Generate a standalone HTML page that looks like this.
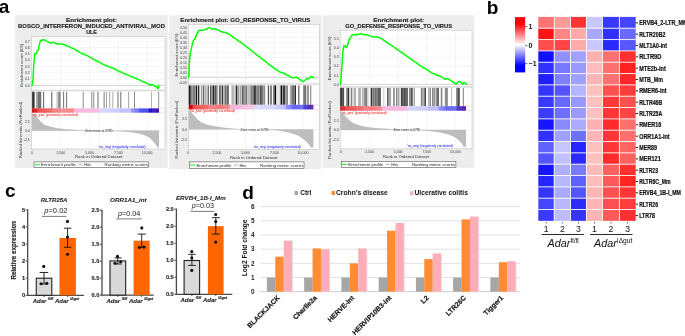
<!DOCTYPE html><html><head><meta charset="utf-8"><style>html,body{margin:0;padding:0;background:#fff;}svg{display:block;will-change:transform;}</style></head><body><svg width="685" height="336" viewBox="0 0 685 336" font-family='"Liberation Sans", sans-serif'>
<rect x="0.00" y="0.00" width="685.00" height="336.00" fill="#ffffff"/>
<rect x="15.30" y="15.30" width="152.50" height="152.60" fill="#ededed"/>
<text x="91.55" y="21.50" font-size="6.0" text-anchor="middle" fill="#222" font-weight="bold" textLength="51" lengthAdjust="spacingAndGlyphs" stroke="#222" stroke-width="0.15">Enrichment plot:</text>
<text x="91.55" y="27.90" font-size="6.0" text-anchor="middle" fill="#222" font-weight="bold" textLength="147" lengthAdjust="spacingAndGlyphs" stroke="#222" stroke-width="0.15">BOSCO_INTERFERON_INDUCED_ANTIVIRAL_MOD</text>
<text x="91.55" y="34.30" font-size="6.0" text-anchor="middle" fill="#222" font-weight="bold" textLength="10.6" lengthAdjust="spacingAndGlyphs" stroke="#222" stroke-width="0.15">ULE</text>
<rect x="31.40" y="36.70" width="133.60" height="53.50" fill="#fff" stroke="#c4c4c4" stroke-width="0.6"/>
<rect x="31.40" y="90.20" width="133.60" height="58.80" fill="#fff" stroke="#c4c4c4" stroke-width="0.6"/>
<line x1="60.80" y1="36.70" x2="60.80" y2="90.20" stroke="#e6e6e6" stroke-width="0.5"/>
<line x1="60.80" y1="112.70" x2="60.80" y2="149.00" stroke="#efefef" stroke-width="0.5"/>
<line x1="89.60" y1="36.70" x2="89.60" y2="90.20" stroke="#e6e6e6" stroke-width="0.5"/>
<line x1="89.60" y1="112.70" x2="89.60" y2="149.00" stroke="#efefef" stroke-width="0.5"/>
<line x1="118.40" y1="36.70" x2="118.40" y2="90.20" stroke="#e6e6e6" stroke-width="0.5"/>
<line x1="118.40" y1="112.70" x2="118.40" y2="149.00" stroke="#efefef" stroke-width="0.5"/>
<line x1="147.20" y1="36.70" x2="147.20" y2="90.20" stroke="#e6e6e6" stroke-width="0.5"/>
<line x1="147.20" y1="112.70" x2="147.20" y2="149.00" stroke="#efefef" stroke-width="0.5"/>
<line x1="31.40" y1="85.50" x2="165.00" y2="85.50" stroke="#ebebeb" stroke-width="0.5"/>
<text x="29.80" y="86.75" font-size="3.5" text-anchor="end" fill="#3a3a3a">0.0</text>
<line x1="31.40" y1="79.18" x2="165.00" y2="79.18" stroke="#ebebeb" stroke-width="0.5"/>
<text x="29.80" y="80.43" font-size="3.5" text-anchor="end" fill="#3a3a3a">0.1</text>
<line x1="31.40" y1="72.86" x2="165.00" y2="72.86" stroke="#ebebeb" stroke-width="0.5"/>
<text x="29.80" y="74.11" font-size="3.5" text-anchor="end" fill="#3a3a3a">0.2</text>
<line x1="31.40" y1="66.54" x2="165.00" y2="66.54" stroke="#ebebeb" stroke-width="0.5"/>
<text x="29.80" y="67.79" font-size="3.5" text-anchor="end" fill="#3a3a3a">0.3</text>
<line x1="31.40" y1="60.22" x2="165.00" y2="60.22" stroke="#ebebeb" stroke-width="0.5"/>
<text x="29.80" y="61.47" font-size="3.5" text-anchor="end" fill="#3a3a3a">0.4</text>
<line x1="31.40" y1="53.90" x2="165.00" y2="53.90" stroke="#ebebeb" stroke-width="0.5"/>
<text x="29.80" y="55.15" font-size="3.5" text-anchor="end" fill="#3a3a3a">0.5</text>
<line x1="31.40" y1="47.58" x2="165.00" y2="47.58" stroke="#ebebeb" stroke-width="0.5"/>
<text x="29.80" y="48.83" font-size="3.5" text-anchor="end" fill="#3a3a3a">0.6</text>
<line x1="31.40" y1="41.26" x2="165.00" y2="41.26" stroke="#ebebeb" stroke-width="0.5"/>
<text x="29.80" y="42.51" font-size="3.5" text-anchor="end" fill="#3a3a3a">0.7</text>
<line x1="31.40" y1="85.50" x2="165.00" y2="85.50" stroke="#d2d2d2" stroke-width="0.9"/>
<rect x="32.10" y="91.60" width="2.50" height="16.80" fill="#333333"/>
<rect x="36.20" y="91.60" width="1.50" height="16.80" fill="#999999"/>
<rect x="37.70" y="91.60" width="3.60" height="16.80" fill="#737373"/>
<rect x="43.30" y="91.60" width="0.80" height="16.80" fill="#333333"/>
<rect x="51.30" y="91.60" width="1.00" height="16.80" fill="#595959"/>
<rect x="56.60" y="91.60" width="1.00" height="16.80" fill="#b2b2b2"/>
<rect x="58.10" y="91.60" width="2.60" height="16.80" fill="#8c8c8c"/>
<rect x="63.30" y="91.60" width="0.80" height="16.80" fill="#4c4c4c"/>
<rect x="66.30" y="91.60" width="0.80" height="16.80" fill="#4c4c4c"/>
<rect x="82.70" y="91.60" width="1.00" height="16.80" fill="#8c8c8c"/>
<rect x="91.40" y="91.60" width="0.80" height="16.80" fill="#737373"/>
<rect x="93.40" y="91.60" width="0.80" height="16.80" fill="#737373"/>
<rect x="97.60" y="91.60" width="0.80" height="16.80" fill="#4c4c4c"/>
<rect x="103.70" y="91.60" width="0.80" height="16.80" fill="#595959"/>
<rect x="106.40" y="91.60" width="0.60" height="16.80" fill="#666666"/>
<rect x="109.50" y="91.60" width="0.60" height="16.80" fill="#737373"/>
<rect x="112.60" y="91.60" width="0.60" height="16.80" fill="#737373"/>
<rect x="117.50" y="91.60" width="1.00" height="16.80" fill="#737373"/>
<rect x="120.50" y="91.60" width="0.70" height="16.80" fill="#333333"/>
<rect x="128.50" y="91.60" width="0.60" height="16.80" fill="#666666"/>
<rect x="134.30" y="91.60" width="0.70" height="16.80" fill="#595959"/>
<rect x="151.40" y="91.60" width="0.60" height="16.80" fill="#808080"/>
<rect x="158.40" y="91.60" width="0.70" height="16.80" fill="#666666"/>
<rect x="32.10" y="108.40" width="1.07" height="4.30" fill="#c80000"/>
<rect x="33.12" y="108.40" width="1.07" height="4.30" fill="#cc0202"/>
<rect x="34.14" y="108.40" width="1.07" height="4.30" fill="#d00404"/>
<rect x="35.16" y="108.40" width="1.07" height="4.30" fill="#d40606"/>
<rect x="36.18" y="108.40" width="1.07" height="4.30" fill="#d80808"/>
<rect x="37.20" y="108.40" width="1.07" height="4.30" fill="#e42a2a"/>
<rect x="38.22" y="108.40" width="1.07" height="4.30" fill="#e52c2c"/>
<rect x="39.24" y="108.40" width="1.07" height="4.30" fill="#e52e2e"/>
<rect x="40.26" y="108.40" width="1.07" height="4.30" fill="#e63030"/>
<rect x="41.28" y="108.40" width="1.07" height="4.30" fill="#e73131"/>
<rect x="42.30" y="108.40" width="1.07" height="4.30" fill="#e83333"/>
<rect x="43.32" y="108.40" width="1.07" height="4.30" fill="#e83535"/>
<rect x="44.34" y="108.40" width="1.07" height="4.30" fill="#e93737"/>
<rect x="45.36" y="108.40" width="1.07" height="4.30" fill="#ea3939"/>
<rect x="46.38" y="108.40" width="1.07" height="4.30" fill="#ea3b3b"/>
<rect x="47.40" y="108.40" width="1.07" height="4.30" fill="#eb3d3d"/>
<rect x="48.42" y="108.40" width="1.07" height="4.30" fill="#ec3e3e"/>
<rect x="49.44" y="108.40" width="1.07" height="4.30" fill="#ed4040"/>
<rect x="50.46" y="108.40" width="1.07" height="4.30" fill="#ed4242"/>
<rect x="51.48" y="108.40" width="1.07" height="4.30" fill="#ee4444"/>
<rect x="52.50" y="108.40" width="1.07" height="4.30" fill="#f05a66"/>
<rect x="53.52" y="108.40" width="1.07" height="4.30" fill="#f15d68"/>
<rect x="54.55" y="108.40" width="1.08" height="4.30" fill="#f15f6a"/>
<rect x="55.58" y="108.40" width="1.07" height="4.30" fill="#f2626c"/>
<rect x="56.60" y="108.40" width="1.07" height="4.30" fill="#f2646e"/>
<rect x="57.62" y="108.40" width="1.08" height="4.30" fill="#f36770"/>
<rect x="58.65" y="108.40" width="1.07" height="4.30" fill="#f36972"/>
<rect x="59.68" y="108.40" width="1.07" height="4.30" fill="#f46c74"/>
<rect x="60.70" y="108.40" width="1.07" height="4.30" fill="#f77a80"/>
<rect x="61.72" y="108.40" width="1.07" height="4.30" fill="#f77b81"/>
<rect x="62.75" y="108.40" width="1.07" height="4.30" fill="#f87d82"/>
<rect x="63.77" y="108.40" width="1.07" height="4.30" fill="#f87e82"/>
<rect x="64.79" y="108.40" width="1.07" height="4.30" fill="#f87f83"/>
<rect x="65.82" y="108.40" width="1.07" height="4.30" fill="#f88184"/>
<rect x="66.84" y="108.40" width="1.07" height="4.30" fill="#f88285"/>
<rect x="67.86" y="108.40" width="1.07" height="4.30" fill="#f98386"/>
<rect x="68.88" y="108.40" width="1.07" height="4.30" fill="#f98587"/>
<rect x="69.91" y="108.40" width="1.07" height="4.30" fill="#f98688"/>
<rect x="70.93" y="108.40" width="1.07" height="4.30" fill="#fa8788"/>
<rect x="71.95" y="108.40" width="1.07" height="4.30" fill="#fa8989"/>
<rect x="72.98" y="108.40" width="1.07" height="4.30" fill="#fa8a8a"/>
<rect x="74.00" y="108.40" width="1.05" height="4.30" fill="#f7b5dc"/>
<rect x="75.00" y="108.40" width="1.05" height="4.30" fill="#f7b5dc"/>
<rect x="76.01" y="108.40" width="1.05" height="4.30" fill="#f7b5dc"/>
<rect x="77.01" y="108.40" width="1.05" height="4.30" fill="#f7b5dc"/>
<rect x="78.02" y="108.40" width="1.05" height="4.30" fill="#f7b6dc"/>
<rect x="79.02" y="108.40" width="1.05" height="4.30" fill="#f7b6dc"/>
<rect x="80.02" y="108.40" width="1.05" height="4.30" fill="#f7b6dc"/>
<rect x="81.03" y="108.40" width="1.05" height="4.30" fill="#f7b6dd"/>
<rect x="82.03" y="108.40" width="1.05" height="4.30" fill="#f7b6dd"/>
<rect x="83.04" y="108.40" width="1.05" height="4.30" fill="#f7b6dd"/>
<rect x="84.04" y="108.40" width="1.05" height="4.30" fill="#f7b6dd"/>
<rect x="85.04" y="108.40" width="1.05" height="4.30" fill="#f7b6dd"/>
<rect x="86.05" y="108.40" width="1.05" height="4.30" fill="#f7b6dd"/>
<rect x="87.05" y="108.40" width="1.05" height="4.30" fill="#f7b7dd"/>
<rect x="88.06" y="108.40" width="1.05" height="4.30" fill="#f7b7dd"/>
<rect x="89.06" y="108.40" width="1.05" height="4.30" fill="#f7b7dd"/>
<rect x="90.06" y="108.40" width="1.05" height="4.30" fill="#f7b7dd"/>
<rect x="91.07" y="108.40" width="1.05" height="4.30" fill="#f7b7dd"/>
<rect x="92.07" y="108.40" width="1.05" height="4.30" fill="#f7b7de"/>
<rect x="93.08" y="108.40" width="1.05" height="4.30" fill="#f7b7de"/>
<rect x="94.08" y="108.40" width="1.05" height="4.30" fill="#f7b8de"/>
<rect x="95.08" y="108.40" width="1.05" height="4.30" fill="#f7b8de"/>
<rect x="96.09" y="108.40" width="1.05" height="4.30" fill="#f7b8de"/>
<rect x="97.09" y="108.40" width="1.05" height="4.30" fill="#f7b8de"/>
<rect x="98.10" y="108.40" width="1.05" height="4.30" fill="#f7b8de"/>
<rect x="99.10" y="108.40" width="1.05" height="4.30" fill="#d4d4ff"/>
<rect x="100.10" y="108.40" width="1.05" height="4.30" fill="#d4d4ff"/>
<rect x="101.09" y="108.40" width="1.05" height="4.30" fill="#d3d3ff"/>
<rect x="102.09" y="108.40" width="1.05" height="4.30" fill="#d3d3ff"/>
<rect x="103.08" y="108.40" width="1.05" height="4.30" fill="#d2d2ff"/>
<rect x="104.08" y="108.40" width="1.05" height="4.30" fill="#d2d2ff"/>
<rect x="105.07" y="108.40" width="1.05" height="4.30" fill="#d2d2ff"/>
<rect x="106.07" y="108.40" width="1.05" height="4.30" fill="#d1d1ff"/>
<rect x="107.06" y="108.40" width="1.05" height="4.30" fill="#d1d1ff"/>
<rect x="108.06" y="108.40" width="1.05" height="4.30" fill="#d0d0ff"/>
<rect x="109.05" y="108.40" width="1.05" height="4.30" fill="#d0d0ff"/>
<rect x="110.05" y="108.40" width="1.05" height="4.30" fill="#d0d0ff"/>
<rect x="111.04" y="108.40" width="1.05" height="4.30" fill="#cfcfff"/>
<rect x="112.04" y="108.40" width="1.05" height="4.30" fill="#cfcfff"/>
<rect x="113.03" y="108.40" width="1.05" height="4.30" fill="#ceceff"/>
<rect x="114.03" y="108.40" width="1.05" height="4.30" fill="#ceceff"/>
<rect x="115.02" y="108.40" width="1.05" height="4.30" fill="#ceceff"/>
<rect x="116.02" y="108.40" width="1.05" height="4.30" fill="#cdcdff"/>
<rect x="117.01" y="108.40" width="1.05" height="4.30" fill="#cdcdff"/>
<rect x="118.01" y="108.40" width="1.05" height="4.30" fill="#ccccff"/>
<rect x="119.00" y="108.40" width="1.05" height="4.30" fill="#ccccff"/>
<rect x="120.00" y="108.40" width="1.08" height="4.30" fill="#c0c0ff"/>
<rect x="121.03" y="108.40" width="1.08" height="4.30" fill="#bfbfff"/>
<rect x="122.05" y="108.40" width="1.08" height="4.30" fill="#bebeff"/>
<rect x="123.08" y="108.40" width="1.08" height="4.30" fill="#bcbcff"/>
<rect x="124.11" y="108.40" width="1.08" height="4.30" fill="#bbbbff"/>
<rect x="125.14" y="108.40" width="1.08" height="4.30" fill="#babaff"/>
<rect x="126.16" y="108.40" width="1.08" height="4.30" fill="#b9b9ff"/>
<rect x="127.19" y="108.40" width="1.08" height="4.30" fill="#b8b8ff"/>
<rect x="128.22" y="108.40" width="1.08" height="4.30" fill="#b6b6ff"/>
<rect x="129.25" y="108.40" width="1.08" height="4.30" fill="#b5b5ff"/>
<rect x="130.27" y="108.40" width="1.08" height="4.30" fill="#b4b4ff"/>
<rect x="131.30" y="108.40" width="1.01" height="4.30" fill="#7e7eff"/>
<rect x="132.26" y="108.40" width="1.01" height="4.30" fill="#7c7cff"/>
<rect x="133.23" y="108.40" width="1.01" height="4.30" fill="#7a7aff"/>
<rect x="134.19" y="108.40" width="1.01" height="4.30" fill="#7878ff"/>
<rect x="135.15" y="108.40" width="1.01" height="4.30" fill="#7676ff"/>
<rect x="136.11" y="108.40" width="1.01" height="4.30" fill="#7474ff"/>
<rect x="137.07" y="108.40" width="1.01" height="4.30" fill="#7272ff"/>
<rect x="138.04" y="108.40" width="1.01" height="4.30" fill="#7070ff"/>
<rect x="139.00" y="108.40" width="1.05" height="4.30" fill="#5a5af0"/>
<rect x="140.00" y="108.40" width="1.05" height="4.30" fill="#5858ef"/>
<rect x="141.00" y="108.40" width="1.05" height="4.30" fill="#5656ee"/>
<rect x="142.00" y="108.40" width="1.05" height="4.30" fill="#5555ed"/>
<rect x="143.00" y="108.40" width="1.05" height="4.30" fill="#5353ec"/>
<rect x="144.00" y="108.40" width="1.05" height="4.30" fill="#5151ec"/>
<rect x="145.00" y="108.40" width="1.05" height="4.30" fill="#4f4feb"/>
<rect x="146.00" y="108.40" width="1.05" height="4.30" fill="#4e4eea"/>
<rect x="147.00" y="108.40" width="1.05" height="4.30" fill="#4c4ce9"/>
<rect x="148.00" y="108.40" width="1.05" height="4.30" fill="#4a4ae8"/>
<rect x="149.00" y="108.40" width="1.01" height="4.30" fill="#1a10cc"/>
<rect x="149.96" y="108.40" width="1.01" height="4.30" fill="#1a10cc"/>
<rect x="150.92" y="108.40" width="1.01" height="4.30" fill="#1a10cc"/>
<rect x="151.88" y="108.40" width="1.01" height="4.30" fill="#1a10cc"/>
<rect x="152.84" y="108.40" width="1.01" height="4.30" fill="#1a10cc"/>
<rect x="153.80" y="108.40" width="1.07" height="4.30" fill="#4000a8"/>
<rect x="154.82" y="108.40" width="1.07" height="4.30" fill="#4000a8"/>
<rect x="155.84" y="108.40" width="1.07" height="4.30" fill="#4000a8"/>
<rect x="156.86" y="108.40" width="1.07" height="4.30" fill="#4000a8"/>
<rect x="157.88" y="108.40" width="1.07" height="4.30" fill="#4000a8"/>
<line x1="158.90" y1="108.40" x2="165.00" y2="108.40" stroke="#d4d4d4" stroke-width="0.5"/>
<line x1="158.90" y1="112.70" x2="165.00" y2="112.70" stroke="#d4d4d4" stroke-width="0.5"/>
<line x1="31.40" y1="91.30" x2="165.00" y2="91.30" stroke="#d8d8d8" stroke-width="0.4"/>
<text x="29.80" y="122.65" font-size="3.5" text-anchor="end" fill="#3a3a3a">2.5</text>
<line x1="31.40" y1="130.80" x2="165.00" y2="130.80" stroke="#e4e4e4" stroke-width="0.5"/>
<text x="29.80" y="132.05" font-size="3.5" text-anchor="end" fill="#3a3a3a">0.0</text>
<text x="29.80" y="141.45" font-size="3.5" text-anchor="end" fill="#3a3a3a">-2.5</text>
<line x1="99.10" y1="112.70" x2="99.10" y2="149.00" stroke="#d0d0d0" stroke-width="0.5" stroke-dasharray="1,1"/>
<polygon points="32.00,113.70 33.50,114.20 35.60,115.60 37.50,117.50 40.40,121.30 44.20,124.70 49.90,126.60 56.60,128.00 66.10,129.20 75.70,129.70 85.20,130.20 100.00,130.60 112.80,130.80 112.80,130.80 32.00,130.80" fill="#bdbdbd" stroke="none" stroke-width="1"/>
<polygon points="112.80,130.80 122.00,131.50 133.50,132.40 142.90,134.40 149.60,137.80 153.60,141.80 157.00,146.50 157.80,147.80 159.00,147.80 159.00,130.80" fill="#bdbdbd" stroke="none" stroke-width="1"/>
<line x1="112.80" y1="130.80" x2="159.00" y2="130.80" stroke="#bdbdbd" stroke-width="0.5"/>
<text x="98.95" y="132.20" font-size="3.5" text-anchor="middle" fill="#1a1a1a" textLength="27.700000000000003" lengthAdjust="spacingAndGlyphs">Zero cross at 6785</text>
<text x="32.60" y="115.60" font-size="3.5" text-anchor="start" fill="#ff0000" textLength="45.3" lengthAdjust="spacingAndGlyphs">'na_pos' (positively correlated)</text>
<text x="122.15" y="148.20" font-size="3.5" text-anchor="middle" fill="#0000ff" textLength="46.89999999999999" lengthAdjust="spacingAndGlyphs">'na_neg' (negatively correlated)</text>
<polyline points="32.10,85.40 33.00,79.00 33.40,72.00 33.70,65.50 34.30,58.30 34.60,53.40 36.25,53.40 37.60,50.70 38.50,49.40 39.40,44.00 40.50,40.50 42.10,40.00 43.80,39.75 44.95,40.15 46.10,40.90 47.42,41.55 48.75,42.25 49.88,42.81 51.00,43.10 52.10,42.78 53.20,42.25 54.55,43.04 55.90,43.60 56.80,43.70 57.70,44.02 58.60,44.00 59.92,44.02 61.25,44.00 62.36,44.14 63.48,44.68 64.59,44.82 65.70,45.40 66.60,45.98 67.50,46.34 68.40,46.40 69.30,46.74 70.20,47.20 71.30,47.88 72.40,48.15 73.50,48.69 74.60,49.40 75.50,49.76 76.40,50.36 77.30,51.01 78.20,51.70 79.10,51.84 80.00,52.50 80.99,53.17 81.97,53.41 82.96,54.03 83.94,54.43 84.93,54.54 85.91,55.23 86.90,55.60 87.80,55.90 88.70,56.33 89.60,57.02 90.50,57.70 91.40,58.08 92.30,58.39 93.20,59.20 94.10,59.73 95.00,59.88 95.90,60.50 96.89,60.97 97.88,61.57 98.87,62.20 99.86,62.31 100.84,63.03 101.83,63.73 102.82,64.05 103.81,64.61 104.80,65.00 105.79,65.53 106.78,65.78 107.77,66.06 108.76,66.60 109.74,66.96 110.73,67.25 111.72,67.90 112.71,68.04 113.70,68.50 114.78,69.03 115.86,69.71 116.94,70.28 118.02,70.86 119.10,71.20 120.08,71.71 121.06,71.94 122.04,72.66 123.02,73.12 124.00,73.46 124.98,73.91 125.96,74.22 126.94,74.64 127.92,75.11 128.90,75.50 129.80,75.70 130.70,76.35 131.60,76.82 132.50,76.85 133.40,77.53 134.30,77.88 135.20,77.97 136.10,78.32 137.00,78.97 137.90,79.30 138.89,79.60 139.88,80.09 140.87,80.69 141.86,81.15 142.84,81.65 143.83,82.00 144.82,82.33 145.81,82.61 146.80,83.30 148.00,83.81 149.20,84.55 150.40,85.40 151.70,84.20 152.80,84.81 153.90,85.40 154.80,86.11 155.70,86.45 156.60,87.14 157.50,88.02 158.40,88.40 158.60,85.40" fill="none" stroke="#00ff00" stroke-width="1.5" stroke-linejoin="round" stroke-linecap="round"/>
<text x="32.00" y="153.50" font-size="3.5" text-anchor="middle" fill="#3a3a3a">0</text>
<text x="60.80" y="153.50" font-size="3.5" text-anchor="middle" fill="#3a3a3a">2,500</text>
<text x="89.60" y="153.50" font-size="3.5" text-anchor="middle" fill="#3a3a3a">5,000</text>
<text x="118.40" y="153.50" font-size="3.5" text-anchor="middle" fill="#3a3a3a">7,500</text>
<text x="147.20" y="153.50" font-size="3.5" text-anchor="middle" fill="#3a3a3a">10,000</text>
<text x="98.70" y="158.25" font-size="4.3" text-anchor="middle" fill="#2a2a2a" textLength="47.400000000000006" lengthAdjust="spacingAndGlyphs">Rank in Ordered Dataset</text>
<text x="0.00" y="0.00" font-size="3.9" text-anchor="middle" fill="#3a3a3a" textLength="43" lengthAdjust="spacingAndGlyphs" transform="translate(22.60,65.20) rotate(-90)">Enrichment score (ES)</text>
<text x="0.00" y="0.00" font-size="3.9" text-anchor="middle" fill="#3a3a3a" textLength="56" lengthAdjust="spacingAndGlyphs" transform="translate(22.20,130.00) rotate(-90)">Ranked list metric (PreRanked)</text>
<rect x="34.00" y="161.90" width="114.60" height="5.60" fill="#fff" stroke="#555" stroke-width="0.6"/>
<line x1="34.60" y1="164.70" x2="40.00" y2="164.70" stroke="#00ee00" stroke-width="0.9"/>
<text x="41.00" y="166.20" font-size="4.3" text-anchor="start" fill="#222" textLength="35" lengthAdjust="spacingAndGlyphs">Enrichment profile</text>
<line x1="78.50" y1="164.70" x2="82.50" y2="164.70" stroke="#555" stroke-width="0.5"/>
<text x="84.00" y="166.20" font-size="4.3" text-anchor="start" fill="#222" textLength="7" lengthAdjust="spacingAndGlyphs">Hits</text>
<line x1="99.00" y1="164.70" x2="103.00" y2="164.70" stroke="#ddd" stroke-width="0.5"/>
<text x="104.60" y="166.20" font-size="4.3" text-anchor="start" fill="#222" textLength="43.4" lengthAdjust="spacingAndGlyphs">Ranking metric scores</text>
<rect x="169.20" y="15.30" width="152.30" height="153.70" fill="#ededed"/>
<text x="245.35" y="22.10" font-size="6.0" text-anchor="middle" fill="#222" font-weight="bold" textLength="130" lengthAdjust="spacingAndGlyphs" stroke="#222" stroke-width="0.15">Enrichment plot: GO_RESPONSE_TO_VIRUS</text>
<rect x="188.60" y="24.50" width="130.70" height="59.60" fill="#fff" stroke="#c4c4c4" stroke-width="0.6"/>
<rect x="188.60" y="84.10" width="130.70" height="65.20" fill="#fff" stroke="#c4c4c4" stroke-width="0.6"/>
<line x1="216.90" y1="24.50" x2="216.90" y2="84.10" stroke="#e6e6e6" stroke-width="0.5"/>
<line x1="216.90" y1="109.40" x2="216.90" y2="149.30" stroke="#efefef" stroke-width="0.5"/>
<line x1="245.60" y1="24.50" x2="245.60" y2="84.10" stroke="#e6e6e6" stroke-width="0.5"/>
<line x1="245.60" y1="109.40" x2="245.60" y2="149.30" stroke="#efefef" stroke-width="0.5"/>
<line x1="274.30" y1="24.50" x2="274.30" y2="84.10" stroke="#e6e6e6" stroke-width="0.5"/>
<line x1="274.30" y1="109.40" x2="274.30" y2="149.30" stroke="#efefef" stroke-width="0.5"/>
<line x1="303.00" y1="24.50" x2="303.00" y2="84.10" stroke="#e6e6e6" stroke-width="0.5"/>
<line x1="303.00" y1="109.40" x2="303.00" y2="149.30" stroke="#efefef" stroke-width="0.5"/>
<line x1="188.60" y1="82.30" x2="319.30" y2="82.30" stroke="#ebebeb" stroke-width="0.5"/>
<text x="187.00" y="83.55" font-size="3.5" text-anchor="end" fill="#3a3a3a">-0.05</text>
<line x1="188.60" y1="77.30" x2="319.30" y2="77.30" stroke="#ebebeb" stroke-width="0.5"/>
<text x="187.00" y="78.55" font-size="3.5" text-anchor="end" fill="#3a3a3a">0.00</text>
<line x1="188.60" y1="72.30" x2="319.30" y2="72.30" stroke="#ebebeb" stroke-width="0.5"/>
<text x="187.00" y="73.55" font-size="3.5" text-anchor="end" fill="#3a3a3a">0.05</text>
<line x1="188.60" y1="67.30" x2="319.30" y2="67.30" stroke="#ebebeb" stroke-width="0.5"/>
<text x="187.00" y="68.55" font-size="3.5" text-anchor="end" fill="#3a3a3a">0.10</text>
<line x1="188.60" y1="62.30" x2="319.30" y2="62.30" stroke="#ebebeb" stroke-width="0.5"/>
<text x="187.00" y="63.55" font-size="3.5" text-anchor="end" fill="#3a3a3a">0.15</text>
<line x1="188.60" y1="57.30" x2="319.30" y2="57.30" stroke="#ebebeb" stroke-width="0.5"/>
<text x="187.00" y="58.55" font-size="3.5" text-anchor="end" fill="#3a3a3a">0.20</text>
<line x1="188.60" y1="52.30" x2="319.30" y2="52.30" stroke="#ebebeb" stroke-width="0.5"/>
<text x="187.00" y="53.55" font-size="3.5" text-anchor="end" fill="#3a3a3a">0.25</text>
<line x1="188.60" y1="47.30" x2="319.30" y2="47.30" stroke="#ebebeb" stroke-width="0.5"/>
<text x="187.00" y="48.55" font-size="3.5" text-anchor="end" fill="#3a3a3a">0.30</text>
<line x1="188.60" y1="42.30" x2="319.30" y2="42.30" stroke="#ebebeb" stroke-width="0.5"/>
<text x="187.00" y="43.55" font-size="3.5" text-anchor="end" fill="#3a3a3a">0.35</text>
<line x1="188.60" y1="37.30" x2="319.30" y2="37.30" stroke="#ebebeb" stroke-width="0.5"/>
<text x="187.00" y="38.55" font-size="3.5" text-anchor="end" fill="#3a3a3a">0.40</text>
<line x1="188.60" y1="32.30" x2="319.30" y2="32.30" stroke="#ebebeb" stroke-width="0.5"/>
<text x="187.00" y="33.55" font-size="3.5" text-anchor="end" fill="#3a3a3a">0.45</text>
<line x1="188.60" y1="27.30" x2="319.30" y2="27.30" stroke="#ebebeb" stroke-width="0.5"/>
<text x="187.00" y="28.55" font-size="3.5" text-anchor="end" fill="#3a3a3a">0.50</text>
<line x1="188.60" y1="77.30" x2="319.30" y2="77.30" stroke="#d2d2d2" stroke-width="0.9"/>
<rect x="188.76" y="85.30" width="1.33" height="19.50" fill="#1a1a1a"/>
<rect x="190.09" y="85.30" width="1.53" height="19.50" fill="#4c4c4c"/>
<rect x="191.62" y="85.30" width="1.02" height="19.50" fill="#808080"/>
<rect x="192.64" y="85.30" width="0.72" height="19.50" fill="#7a7a7a"/>
<rect x="193.34" y="85.30" width="1.12" height="19.50" fill="#575757"/>
<rect x="194.44" y="85.30" width="0.52" height="19.50" fill="#515151"/>
<rect x="194.94" y="85.30" width="0.72" height="19.50" fill="#b9b9b9"/>
<rect x="195.64" y="85.30" width="0.09" height="19.50" fill="#7e7e7e"/>
<rect x="195.71" y="85.30" width="1.53" height="19.50" fill="#1a1a1a"/>
<rect x="198.06" y="85.30" width="1.23" height="19.50" fill="#1a1a1a"/>
<rect x="200.82" y="85.30" width="0.52" height="19.50" fill="#939393"/>
<rect x="201.32" y="85.30" width="1.12" height="19.50" fill="#898989"/>
<rect x="202.42" y="85.30" width="0.72" height="19.50" fill="#d2d2d2"/>
<rect x="203.12" y="85.30" width="1.12" height="19.50" fill="#5e5e5e"/>
<rect x="204.22" y="85.30" width="0.72" height="19.50" fill="#bebebe"/>
<rect x="204.92" y="85.30" width="0.92" height="19.50" fill="#9c9c9c"/>
<rect x="205.82" y="85.30" width="1.12" height="19.50" fill="#d2d2d2"/>
<rect x="206.92" y="85.30" width="1.12" height="19.50" fill="#b9b9b9"/>
<rect x="208.02" y="85.30" width="0.92" height="19.50" fill="#5f5f5f"/>
<rect x="208.92" y="85.30" width="0.09" height="19.50" fill="#898989"/>
<rect x="210.01" y="85.30" width="1.12" height="19.50" fill="#545454"/>
<rect x="211.11" y="85.30" width="0.52" height="19.50" fill="#757575"/>
<rect x="211.61" y="85.30" width="0.52" height="19.50" fill="#8c8c8c"/>
<rect x="212.11" y="85.30" width="0.47" height="19.50" fill="#989898"/>
<rect x="212.57" y="85.30" width="1.53" height="19.50" fill="#262626"/>
<rect x="214.10" y="85.30" width="1.02" height="19.50" fill="#808080"/>
<rect x="215.12" y="85.30" width="1.53" height="19.50" fill="#404040"/>
<rect x="216.66" y="85.30" width="1.02" height="19.50" fill="#8c8c8c"/>
<rect x="218.90" y="85.30" width="0.72" height="19.50" fill="#4f4f4f"/>
<rect x="219.60" y="85.30" width="0.52" height="19.50" fill="#3e3e3e"/>
<rect x="220.10" y="85.30" width="0.66" height="19.50" fill="#0e0e0e"/>
<rect x="220.74" y="85.30" width="1.02" height="19.50" fill="#d9d9d9"/>
<rect x="221.77" y="85.30" width="1.53" height="19.50" fill="#333333"/>
<rect x="224.32" y="85.30" width="1.12" height="19.50" fill="#7a7a7a"/>
<rect x="225.42" y="85.30" width="1.12" height="19.50" fill="#3b3b3b"/>
<rect x="226.52" y="85.30" width="0.92" height="19.50" fill="#8c8c8c"/>
<rect x="227.42" y="85.30" width="1.12" height="19.50" fill="#252525"/>
<rect x="228.52" y="85.30" width="0.42" height="19.50" fill="#5e5e5e"/>
<rect x="230.96" y="85.30" width="0.92" height="19.50" fill="#cfcfcf"/>
<rect x="231.86" y="85.30" width="1.12" height="19.50" fill="#b3b3b3"/>
<rect x="232.96" y="85.30" width="0.72" height="19.50" fill="#979797"/>
<rect x="233.66" y="85.30" width="0.92" height="19.50" fill="#b7b7b7"/>
<rect x="234.56" y="85.30" width="0.52" height="19.50" fill="#dedede"/>
<rect x="235.06" y="85.30" width="0.72" height="19.50" fill="#9c9c9c"/>
<rect x="235.76" y="85.30" width="0.33" height="19.50" fill="#959595"/>
<rect x="236.07" y="85.30" width="1.02" height="19.50" fill="#1a1a1a"/>
<rect x="237.09" y="85.30" width="0.72" height="19.50" fill="#919191"/>
<rect x="237.79" y="85.30" width="1.12" height="19.50" fill="#8f8f8f"/>
<rect x="238.89" y="85.30" width="0.92" height="19.50" fill="#e2e2e2"/>
<rect x="239.79" y="85.30" width="0.90" height="19.50" fill="#848484"/>
<rect x="241.69" y="85.30" width="1.12" height="19.50" fill="#494949"/>
<rect x="242.79" y="85.30" width="0.52" height="19.50" fill="#555555"/>
<rect x="243.29" y="85.30" width="0.72" height="19.50" fill="#636363"/>
<rect x="243.99" y="85.30" width="0.52" height="19.50" fill="#aaaaaa"/>
<rect x="244.49" y="85.30" width="1.12" height="19.50" fill="#696969"/>
<rect x="245.59" y="85.30" width="0.72" height="19.50" fill="#898989"/>
<rect x="246.29" y="85.30" width="0.72" height="19.50" fill="#4c4c4c"/>
<rect x="246.99" y="85.30" width="0.34" height="19.50" fill="#727272"/>
<rect x="247.31" y="85.30" width="0.52" height="19.50" fill="#bfbfbf"/>
<rect x="247.81" y="85.30" width="0.92" height="19.50" fill="#d1d1d1"/>
<rect x="248.71" y="85.30" width="0.52" height="19.50" fill="#777777"/>
<rect x="249.21" y="85.30" width="0.52" height="19.50" fill="#d8d8d8"/>
<rect x="249.71" y="85.30" width="0.69" height="19.50" fill="#818181"/>
<rect x="250.38" y="85.30" width="1.12" height="19.50" fill="#909090"/>
<rect x="251.48" y="85.30" width="0.52" height="19.50" fill="#464646"/>
<rect x="251.98" y="85.30" width="0.72" height="19.50" fill="#5c5c5c"/>
<rect x="252.68" y="85.30" width="0.52" height="19.50" fill="#969696"/>
<rect x="253.18" y="85.30" width="0.92" height="19.50" fill="#5a5a5a"/>
<rect x="254.08" y="85.30" width="0.92" height="19.50" fill="#2c2c2c"/>
<rect x="254.98" y="85.30" width="1.04" height="19.50" fill="#494949"/>
<rect x="256.09" y="85.30" width="0.52" height="19.50" fill="#a9a9a9"/>
<rect x="256.59" y="85.30" width="0.72" height="19.50" fill="#454545"/>
<rect x="257.29" y="85.30" width="1.12" height="19.50" fill="#6a6a6a"/>
<rect x="258.39" y="85.30" width="0.52" height="19.50" fill="#484848"/>
<rect x="258.89" y="85.30" width="0.72" height="19.50" fill="#727272"/>
<rect x="259.59" y="85.30" width="0.61" height="19.50" fill="#9c9c9c"/>
<rect x="260.17" y="85.30" width="1.53" height="19.50" fill="#333333"/>
<rect x="261.71" y="85.30" width="1.12" height="19.50" fill="#565656"/>
<rect x="262.81" y="85.30" width="1.12" height="19.50" fill="#a1a1a1"/>
<rect x="263.91" y="85.30" width="1.12" height="19.50" fill="#8e8e8e"/>
<rect x="265.01" y="85.30" width="0.30" height="19.50" fill="#ababab"/>
<rect x="267.84" y="85.30" width="1.02" height="19.50" fill="#333333"/>
<rect x="269.88" y="85.30" width="1.12" height="19.50" fill="#898989"/>
<rect x="270.98" y="85.30" width="0.92" height="19.50" fill="#797979"/>
<rect x="272.95" y="85.30" width="1.53" height="19.50" fill="#808080"/>
<rect x="274.48" y="85.30" width="0.52" height="19.50" fill="#151515"/>
<rect x="274.98" y="85.30" width="1.12" height="19.50" fill="#080808"/>
<rect x="276.08" y="85.30" width="0.46" height="19.50" fill="#606060"/>
<rect x="276.52" y="85.30" width="0.52" height="19.50" fill="#fcfcfc"/>
<rect x="277.02" y="85.30" width="1.12" height="19.50" fill="#e9e9e9"/>
<rect x="278.12" y="85.30" width="0.72" height="19.50" fill="#e6e6e6"/>
<rect x="278.82" y="85.30" width="0.92" height="19.50" fill="#e9e9e9"/>
<rect x="279.72" y="85.30" width="0.72" height="19.50" fill="#9f9f9f"/>
<rect x="280.42" y="85.30" width="0.21" height="19.50" fill="#ffffff"/>
<rect x="280.61" y="85.30" width="1.53" height="19.50" fill="#0d0d0d"/>
<rect x="282.15" y="85.30" width="0.92" height="19.50" fill="#969696"/>
<rect x="283.05" y="85.30" width="1.12" height="19.50" fill="#323232"/>
<rect x="284.15" y="85.30" width="0.92" height="19.50" fill="#1d1d1d"/>
<rect x="285.05" y="85.30" width="1.12" height="19.50" fill="#9d9d9d"/>
<rect x="286.15" y="85.30" width="0.92" height="19.50" fill="#858585"/>
<rect x="287.05" y="85.30" width="0.74" height="19.50" fill="#5c5c5c"/>
<rect x="289.81" y="85.30" width="0.92" height="19.50" fill="#a8a8a8"/>
<rect x="290.71" y="85.30" width="0.92" height="19.50" fill="#959595"/>
<rect x="291.61" y="85.30" width="0.52" height="19.50" fill="#545454"/>
<rect x="292.11" y="85.30" width="0.92" height="19.50" fill="#6e6e6e"/>
<rect x="293.01" y="85.30" width="0.92" height="19.50" fill="#555555"/>
<rect x="293.91" y="85.30" width="1.03" height="19.50" fill="#909090"/>
<rect x="294.92" y="85.30" width="1.02" height="19.50" fill="#1a1a1a"/>
<rect x="297.98" y="85.30" width="1.53" height="19.50" fill="#808080"/>
<rect x="303.09" y="85.30" width="0.92" height="19.50" fill="#878787"/>
<rect x="303.99" y="85.30" width="0.92" height="19.50" fill="#727272"/>
<rect x="304.89" y="85.30" width="0.72" height="19.50" fill="#585858"/>
<rect x="305.59" y="85.30" width="0.52" height="19.50" fill="#383838"/>
<rect x="306.09" y="85.30" width="0.09" height="19.50" fill="#595959"/>
<rect x="307.18" y="85.30" width="1.53" height="19.50" fill="#808080"/>
<rect x="310.25" y="85.30" width="1.02" height="19.50" fill="#808080"/>
<rect x="188.80" y="104.80" width="1.15" height="4.60" fill="#c80000"/>
<rect x="189.90" y="104.80" width="1.15" height="4.60" fill="#cd0303"/>
<rect x="191.00" y="104.80" width="1.15" height="4.60" fill="#d30505"/>
<rect x="192.10" y="104.80" width="1.15" height="4.60" fill="#d80808"/>
<rect x="193.20" y="104.80" width="1.07" height="4.60" fill="#e42a2a"/>
<rect x="194.22" y="104.80" width="1.07" height="4.60" fill="#e52c2c"/>
<rect x="195.24" y="104.80" width="1.07" height="4.60" fill="#e52e2e"/>
<rect x="196.26" y="104.80" width="1.07" height="4.60" fill="#e63030"/>
<rect x="197.28" y="104.80" width="1.07" height="4.60" fill="#e73131"/>
<rect x="198.30" y="104.80" width="1.07" height="4.60" fill="#e83333"/>
<rect x="199.32" y="104.80" width="1.07" height="4.60" fill="#e83535"/>
<rect x="200.34" y="104.80" width="1.07" height="4.60" fill="#e93737"/>
<rect x="201.36" y="104.80" width="1.07" height="4.60" fill="#ea3939"/>
<rect x="202.38" y="104.80" width="1.07" height="4.60" fill="#ea3b3b"/>
<rect x="203.40" y="104.80" width="1.07" height="4.60" fill="#eb3d3d"/>
<rect x="204.42" y="104.80" width="1.07" height="4.60" fill="#ec3e3e"/>
<rect x="205.44" y="104.80" width="1.07" height="4.60" fill="#ed4040"/>
<rect x="206.46" y="104.80" width="1.07" height="4.60" fill="#ed4242"/>
<rect x="207.48" y="104.80" width="1.07" height="4.60" fill="#ee4444"/>
<rect x="208.50" y="104.80" width="1.01" height="4.60" fill="#f05a66"/>
<rect x="209.46" y="104.80" width="1.01" height="4.60" fill="#f05c67"/>
<rect x="210.42" y="104.80" width="1.01" height="4.60" fill="#f15d69"/>
<rect x="211.38" y="104.80" width="1.01" height="4.60" fill="#f15f6a"/>
<rect x="212.33" y="104.80" width="1.01" height="4.60" fill="#f1616b"/>
<rect x="213.29" y="104.80" width="1.01" height="4.60" fill="#f2626c"/>
<rect x="214.25" y="104.80" width="1.01" height="4.60" fill="#f2646e"/>
<rect x="215.21" y="104.80" width="1.01" height="4.60" fill="#f3656f"/>
<rect x="216.17" y="104.80" width="1.01" height="4.60" fill="#f36770"/>
<rect x="217.12" y="104.80" width="1.01" height="4.60" fill="#f36971"/>
<rect x="218.08" y="104.80" width="1.01" height="4.60" fill="#f46a73"/>
<rect x="219.04" y="104.80" width="1.01" height="4.60" fill="#f46c74"/>
<rect x="220.00" y="104.80" width="1.04" height="4.60" fill="#f77a80"/>
<rect x="220.99" y="104.80" width="1.04" height="4.60" fill="#f77c81"/>
<rect x="221.98" y="104.80" width="1.04" height="4.60" fill="#f87e82"/>
<rect x="222.97" y="104.80" width="1.04" height="4.60" fill="#f87f83"/>
<rect x="223.96" y="104.80" width="1.04" height="4.60" fill="#f88184"/>
<rect x="224.95" y="104.80" width="1.04" height="4.60" fill="#f98386"/>
<rect x="225.94" y="104.80" width="1.04" height="4.60" fill="#f98587"/>
<rect x="226.93" y="104.80" width="1.04" height="4.60" fill="#f98688"/>
<rect x="227.92" y="104.80" width="1.04" height="4.60" fill="#fa8889"/>
<rect x="228.91" y="104.80" width="1.04" height="4.60" fill="#fa8a8a"/>
<rect x="229.90" y="104.80" width="1.07" height="4.60" fill="#f7b5dc"/>
<rect x="230.92" y="104.80" width="1.07" height="4.60" fill="#f7b5dc"/>
<rect x="231.93" y="104.80" width="1.07" height="4.60" fill="#f7b5dc"/>
<rect x="232.95" y="104.80" width="1.07" height="4.60" fill="#f7b5dc"/>
<rect x="233.97" y="104.80" width="1.07" height="4.60" fill="#f7b6dc"/>
<rect x="234.98" y="104.80" width="1.07" height="4.60" fill="#f7b6dc"/>
<rect x="236.00" y="104.80" width="1.07" height="4.60" fill="#f7b6dd"/>
<rect x="237.02" y="104.80" width="1.07" height="4.60" fill="#f7b6dd"/>
<rect x="238.03" y="104.80" width="1.07" height="4.60" fill="#f7b6dd"/>
<rect x="239.05" y="104.80" width="1.07" height="4.60" fill="#f7b6dd"/>
<rect x="240.07" y="104.80" width="1.07" height="4.60" fill="#f7b6dd"/>
<rect x="241.08" y="104.80" width="1.07" height="4.60" fill="#f7b6dd"/>
<rect x="242.10" y="104.80" width="1.07" height="4.60" fill="#f7b7dd"/>
<rect x="243.12" y="104.80" width="1.07" height="4.60" fill="#f7b7dd"/>
<rect x="244.13" y="104.80" width="1.07" height="4.60" fill="#f7b7dd"/>
<rect x="245.15" y="104.80" width="1.07" height="4.60" fill="#f7b7dd"/>
<rect x="246.17" y="104.80" width="1.07" height="4.60" fill="#f7b7dd"/>
<rect x="247.18" y="104.80" width="1.07" height="4.60" fill="#f7b7dd"/>
<rect x="248.20" y="104.80" width="1.07" height="4.60" fill="#f7b7de"/>
<rect x="249.22" y="104.80" width="1.07" height="4.60" fill="#f7b7de"/>
<rect x="250.23" y="104.80" width="1.07" height="4.60" fill="#f7b8de"/>
<rect x="251.25" y="104.80" width="1.07" height="4.60" fill="#f7b8de"/>
<rect x="252.27" y="104.80" width="1.07" height="4.60" fill="#f7b8de"/>
<rect x="253.28" y="104.80" width="1.07" height="4.60" fill="#f7b8de"/>
<rect x="254.30" y="104.80" width="1.06" height="4.60" fill="#d4d4ff"/>
<rect x="255.31" y="104.80" width="1.06" height="4.60" fill="#d4d4ff"/>
<rect x="256.32" y="104.80" width="1.06" height="4.60" fill="#d3d3ff"/>
<rect x="257.33" y="104.80" width="1.06" height="4.60" fill="#d3d3ff"/>
<rect x="258.34" y="104.80" width="1.06" height="4.60" fill="#d2d2ff"/>
<rect x="259.35" y="104.80" width="1.06" height="4.60" fill="#d2d2ff"/>
<rect x="260.36" y="104.80" width="1.06" height="4.60" fill="#d2d2ff"/>
<rect x="261.37" y="104.80" width="1.06" height="4.60" fill="#d1d1ff"/>
<rect x="262.38" y="104.80" width="1.06" height="4.60" fill="#d1d1ff"/>
<rect x="263.39" y="104.80" width="1.06" height="4.60" fill="#d0d0ff"/>
<rect x="264.40" y="104.80" width="1.06" height="4.60" fill="#d0d0ff"/>
<rect x="265.40" y="104.80" width="1.06" height="4.60" fill="#d0d0ff"/>
<rect x="266.41" y="104.80" width="1.06" height="4.60" fill="#cfcfff"/>
<rect x="267.42" y="104.80" width="1.06" height="4.60" fill="#cfcfff"/>
<rect x="268.43" y="104.80" width="1.06" height="4.60" fill="#ceceff"/>
<rect x="269.44" y="104.80" width="1.06" height="4.60" fill="#ceceff"/>
<rect x="270.45" y="104.80" width="1.06" height="4.60" fill="#ceceff"/>
<rect x="271.46" y="104.80" width="1.06" height="4.60" fill="#cdcdff"/>
<rect x="272.47" y="104.80" width="1.06" height="4.60" fill="#cdcdff"/>
<rect x="273.48" y="104.80" width="1.06" height="4.60" fill="#ccccff"/>
<rect x="274.49" y="104.80" width="1.06" height="4.60" fill="#ccccff"/>
<rect x="275.50" y="104.80" width="1.07" height="4.60" fill="#c0c0ff"/>
<rect x="276.52" y="104.80" width="1.07" height="4.60" fill="#bfbfff"/>
<rect x="277.54" y="104.80" width="1.07" height="4.60" fill="#bdbdff"/>
<rect x="278.56" y="104.80" width="1.07" height="4.60" fill="#bcbcff"/>
<rect x="279.58" y="104.80" width="1.07" height="4.60" fill="#bbbbff"/>
<rect x="280.60" y="104.80" width="1.07" height="4.60" fill="#b9b9ff"/>
<rect x="281.62" y="104.80" width="1.07" height="4.60" fill="#b8b8ff"/>
<rect x="282.64" y="104.80" width="1.07" height="4.60" fill="#b7b7ff"/>
<rect x="283.66" y="104.80" width="1.07" height="4.60" fill="#b5b5ff"/>
<rect x="284.68" y="104.80" width="1.07" height="4.60" fill="#b4b4ff"/>
<rect x="285.70" y="104.80" width="1.08" height="4.60" fill="#7e7eff"/>
<rect x="286.73" y="104.80" width="1.08" height="4.60" fill="#7c7cff"/>
<rect x="287.76" y="104.80" width="1.08" height="4.60" fill="#7979ff"/>
<rect x="288.79" y="104.80" width="1.08" height="4.60" fill="#7777ff"/>
<rect x="289.81" y="104.80" width="1.08" height="4.60" fill="#7575ff"/>
<rect x="290.84" y="104.80" width="1.08" height="4.60" fill="#7272ff"/>
<rect x="291.87" y="104.80" width="1.08" height="4.60" fill="#7070ff"/>
<rect x="292.90" y="104.80" width="1.02" height="4.60" fill="#5a5af0"/>
<rect x="293.87" y="104.80" width="1.02" height="4.60" fill="#5858ef"/>
<rect x="294.85" y="104.80" width="1.02" height="4.60" fill="#5757ee"/>
<rect x="295.82" y="104.80" width="1.02" height="4.60" fill="#5555ee"/>
<rect x="296.79" y="104.80" width="1.02" height="4.60" fill="#5454ed"/>
<rect x="297.76" y="104.80" width="1.02" height="4.60" fill="#5252ec"/>
<rect x="298.74" y="104.80" width="1.02" height="4.60" fill="#5050eb"/>
<rect x="299.71" y="104.80" width="1.02" height="4.60" fill="#4f4fea"/>
<rect x="300.68" y="104.80" width="1.02" height="4.60" fill="#4d4dea"/>
<rect x="301.65" y="104.80" width="1.02" height="4.60" fill="#4c4ce9"/>
<rect x="302.63" y="104.80" width="1.02" height="4.60" fill="#4a4ae8"/>
<rect x="303.60" y="104.80" width="0.97" height="4.60" fill="#1a10cc"/>
<rect x="304.52" y="104.80" width="0.97" height="4.60" fill="#1a10cc"/>
<rect x="305.44" y="104.80" width="0.97" height="4.60" fill="#1a10cc"/>
<rect x="306.36" y="104.80" width="0.97" height="4.60" fill="#1a10cc"/>
<rect x="307.28" y="104.80" width="0.97" height="4.60" fill="#1a10cc"/>
<rect x="308.20" y="104.80" width="1.07" height="4.60" fill="#4000a8"/>
<rect x="309.22" y="104.80" width="1.07" height="4.60" fill="#4000a8"/>
<rect x="310.24" y="104.80" width="1.07" height="4.60" fill="#4000a8"/>
<rect x="311.26" y="104.80" width="1.07" height="4.60" fill="#4000a8"/>
<rect x="312.28" y="104.80" width="1.07" height="4.60" fill="#4000a8"/>
<line x1="313.30" y1="104.80" x2="319.30" y2="104.80" stroke="#d4d4d4" stroke-width="0.5"/>
<line x1="313.30" y1="109.40" x2="319.30" y2="109.40" stroke="#d4d4d4" stroke-width="0.5"/>
<line x1="188.60" y1="85.00" x2="319.30" y2="85.00" stroke="#d8d8d8" stroke-width="0.4"/>
<text x="187.00" y="120.45" font-size="3.5" text-anchor="end" fill="#3a3a3a">2.5</text>
<line x1="188.60" y1="129.60" x2="319.30" y2="129.60" stroke="#e4e4e4" stroke-width="0.5"/>
<text x="187.00" y="130.85" font-size="3.5" text-anchor="end" fill="#3a3a3a">0.0</text>
<text x="187.00" y="141.25" font-size="3.5" text-anchor="end" fill="#3a3a3a">-2.5</text>
<line x1="254.30" y1="109.40" x2="254.30" y2="149.30" stroke="#d0d0d0" stroke-width="0.5" stroke-dasharray="1,1"/>
<polygon points="188.80,110.20 190.00,110.80 191.70,112.60 194.50,116.00 197.40,119.30 201.20,122.20 206.90,124.50 213.60,126.00 223.10,127.40 232.70,128.40 240.30,129.00 255.00,129.40 268.50,129.60 268.50,129.60 188.80,129.60" fill="#bdbdbd" stroke="none" stroke-width="1"/>
<polygon points="268.50,129.60 279.10,130.70 288.60,132.40 296.20,134.80 301.00,137.20 305.80,141.00 309.60,145.30 310.50,147.60 313.40,147.60 313.40,129.60" fill="#bdbdbd" stroke="none" stroke-width="1"/>
<line x1="268.50" y1="129.60" x2="313.30" y2="129.60" stroke="#bdbdbd" stroke-width="0.5"/>
<text x="254.55" y="130.80" font-size="3.5" text-anchor="middle" fill="#1a1a1a" textLength="27.900000000000006" lengthAdjust="spacingAndGlyphs">Zero cross at 6785</text>
<text x="189.80" y="112.30" font-size="3.5" text-anchor="start" fill="#ff0000" textLength="45.3" lengthAdjust="spacingAndGlyphs">'na_pos' (positively correlated)</text>
<text x="277.20" y="148.00" font-size="3.5" text-anchor="middle" fill="#0000ff" textLength="47.0" lengthAdjust="spacingAndGlyphs">'na_neg' (negatively correlated)</text>
<polyline points="188.80,77.30 189.40,62.00 190.20,53.50 191.10,49.90 192.00,45.40 193.40,40.10 194.70,39.60 195.60,37.19 196.50,34.70 197.40,33.40 198.70,30.70 200.10,30.10 201.40,30.40 202.75,30.10 204.10,30.10 205.00,29.88 205.90,29.20 207.20,28.69 208.50,27.75 209.40,27.86 210.30,28.00 212.10,29.20 213.00,28.93 213.90,28.50 215.25,28.81 216.60,29.40 217.93,29.91 219.25,30.70 220.57,31.19 221.90,31.90 223.10,32.20 224.30,32.16 225.50,32.50 226.85,33.39 228.20,33.80 229.30,34.36 230.40,35.20 231.50,35.92 232.60,36.90 233.50,37.63 234.40,38.03 235.30,38.69 236.20,39.21 237.10,39.97 238.00,40.50 238.99,41.15 239.97,41.75 240.96,42.57 241.94,43.20 242.93,43.81 243.91,44.86 244.90,45.40 245.80,46.20 246.70,46.90 247.60,47.72 248.50,48.19 249.40,48.89 250.30,49.62 251.20,50.32 252.10,51.16 253.00,51.54 253.90,52.50 254.89,53.27 255.88,54.10 256.87,54.79 257.86,55.42 258.84,56.55 259.83,56.99 260.82,58.05 261.81,58.64 262.80,59.60 263.83,60.14 264.86,60.98 265.89,61.70 266.91,62.51 267.94,63.55 268.97,64.34 270.00,65.00 270.90,65.61 271.80,66.44 272.70,67.03 273.60,67.72 274.50,68.40 275.53,69.25 276.57,69.64 277.60,70.58 278.63,71.16 279.67,71.83 280.70,72.40 281.60,72.45 282.50,72.79 283.40,73.07 284.30,73.52 285.20,74.12 286.10,74.20 287.13,74.99 288.17,75.57 289.20,75.81 290.23,76.70 291.27,77.34 292.30,77.80 293.50,77.72 294.70,77.48 295.90,77.10 296.80,77.42 297.70,77.94 298.60,78.75 299.50,79.10 300.67,80.05 301.83,80.96 303.00,81.60 304.15,80.77 305.30,80.00 306.60,78.40 308.40,79.10 309.43,78.39 310.47,77.12 311.50,76.40 312.62,77.18 313.75,77.50" fill="none" stroke="#00ff00" stroke-width="1.5" stroke-linejoin="round" stroke-linecap="round"/>
<text x="188.20" y="153.80" font-size="3.5" text-anchor="middle" fill="#3a3a3a">0</text>
<text x="216.90" y="153.80" font-size="3.5" text-anchor="middle" fill="#3a3a3a">2,500</text>
<text x="245.60" y="153.80" font-size="3.5" text-anchor="middle" fill="#3a3a3a">5,000</text>
<text x="274.30" y="153.80" font-size="3.5" text-anchor="middle" fill="#3a3a3a">7,500</text>
<text x="303.00" y="153.80" font-size="3.5" text-anchor="middle" fill="#3a3a3a">10,000</text>
<text x="253.75" y="158.95" font-size="4.3" text-anchor="middle" fill="#2a2a2a" textLength="47.5" lengthAdjust="spacingAndGlyphs">Rank in Ordered Dataset</text>
<text x="0.00" y="0.00" font-size="3.9" text-anchor="middle" fill="#3a3a3a" textLength="43" lengthAdjust="spacingAndGlyphs" transform="translate(178.30,55.00) rotate(-90)">Enrichment score (ES)</text>
<text x="0.00" y="0.00" font-size="3.9" text-anchor="middle" fill="#3a3a3a" textLength="58" lengthAdjust="spacingAndGlyphs" transform="translate(178.30,129.50) rotate(-90)">Ranked list metric (PreRanked)</text>
<rect x="189.40" y="161.90" width="114.60" height="6.40" fill="#fff" stroke="#555" stroke-width="0.6"/>
<line x1="190.00" y1="165.10" x2="195.40" y2="165.10" stroke="#00ee00" stroke-width="0.9"/>
<text x="196.40" y="166.60" font-size="4.3" text-anchor="start" fill="#222" textLength="35" lengthAdjust="spacingAndGlyphs">Enrichment profile</text>
<line x1="233.90" y1="165.10" x2="237.90" y2="165.10" stroke="#555" stroke-width="0.5"/>
<text x="239.40" y="166.60" font-size="4.3" text-anchor="start" fill="#222" textLength="7" lengthAdjust="spacingAndGlyphs">Hits</text>
<line x1="254.40" y1="165.10" x2="258.40" y2="165.10" stroke="#ddd" stroke-width="0.5"/>
<text x="260.00" y="166.60" font-size="4.3" text-anchor="start" fill="#222" textLength="43.4" lengthAdjust="spacingAndGlyphs">Ranking metric scores</text>
<rect x="323.00" y="15.30" width="151.40" height="152.50" fill="#ededed"/>
<text x="398.70" y="21.50" font-size="6.0" text-anchor="middle" fill="#222" font-weight="bold" textLength="51" lengthAdjust="spacingAndGlyphs" stroke="#222" stroke-width="0.15">Enrichment plot:</text>
<text x="398.70" y="27.90" font-size="6.0" text-anchor="middle" fill="#222" font-weight="bold" textLength="106.7" lengthAdjust="spacingAndGlyphs" stroke="#222" stroke-width="0.15">GO_DEFENSE_RESPONSE_TO_VIRUS</text>
<rect x="340.20" y="30.20" width="131.80" height="56.80" fill="#fff" stroke="#c4c4c4" stroke-width="0.6"/>
<rect x="340.20" y="87.00" width="131.80" height="61.80" fill="#fff" stroke="#c4c4c4" stroke-width="0.6"/>
<line x1="369.60" y1="30.20" x2="369.60" y2="87.00" stroke="#e6e6e6" stroke-width="0.5"/>
<line x1="369.60" y1="110.70" x2="369.60" y2="148.80" stroke="#efefef" stroke-width="0.5"/>
<line x1="398.20" y1="30.20" x2="398.20" y2="87.00" stroke="#e6e6e6" stroke-width="0.5"/>
<line x1="398.20" y1="110.70" x2="398.20" y2="148.80" stroke="#efefef" stroke-width="0.5"/>
<line x1="426.80" y1="30.20" x2="426.80" y2="87.00" stroke="#e6e6e6" stroke-width="0.5"/>
<line x1="426.80" y1="110.70" x2="426.80" y2="148.80" stroke="#efefef" stroke-width="0.5"/>
<line x1="455.40" y1="30.20" x2="455.40" y2="87.00" stroke="#e6e6e6" stroke-width="0.5"/>
<line x1="455.40" y1="110.70" x2="455.40" y2="148.80" stroke="#efefef" stroke-width="0.5"/>
<line x1="340.20" y1="84.40" x2="472.00" y2="84.40" stroke="#ebebeb" stroke-width="0.5"/>
<text x="338.60" y="85.65" font-size="3.5" text-anchor="end" fill="#3a3a3a">0.0</text>
<line x1="340.20" y1="75.30" x2="472.00" y2="75.30" stroke="#ebebeb" stroke-width="0.5"/>
<text x="338.60" y="76.55" font-size="3.5" text-anchor="end" fill="#3a3a3a">0.1</text>
<line x1="340.20" y1="66.20" x2="472.00" y2="66.20" stroke="#ebebeb" stroke-width="0.5"/>
<text x="338.60" y="67.45" font-size="3.5" text-anchor="end" fill="#3a3a3a">0.2</text>
<line x1="340.20" y1="57.10" x2="472.00" y2="57.10" stroke="#ebebeb" stroke-width="0.5"/>
<text x="338.60" y="58.35" font-size="3.5" text-anchor="end" fill="#3a3a3a">0.3</text>
<line x1="340.20" y1="48.00" x2="472.00" y2="48.00" stroke="#ebebeb" stroke-width="0.5"/>
<text x="338.60" y="49.25" font-size="3.5" text-anchor="end" fill="#3a3a3a">0.4</text>
<line x1="340.20" y1="38.90" x2="472.00" y2="38.90" stroke="#ebebeb" stroke-width="0.5"/>
<text x="338.60" y="40.15" font-size="3.5" text-anchor="end" fill="#3a3a3a">0.5</text>
<line x1="340.20" y1="84.40" x2="472.00" y2="84.40" stroke="#d2d2d2" stroke-width="0.9"/>
<rect x="340.25" y="87.80" width="1.12" height="18.40" fill="#1d1d1d"/>
<rect x="341.35" y="87.80" width="0.92" height="18.40" fill="#000000"/>
<rect x="342.25" y="87.80" width="0.37" height="18.40" fill="#000000"/>
<rect x="342.60" y="87.80" width="1.53" height="18.40" fill="#4c4c4c"/>
<rect x="346.17" y="87.80" width="1.53" height="18.40" fill="#808080"/>
<rect x="347.71" y="87.80" width="1.53" height="18.40" fill="#333333"/>
<rect x="350.77" y="87.80" width="1.53" height="18.40" fill="#808080"/>
<rect x="352.31" y="87.80" width="1.53" height="18.40" fill="#d9d9d9"/>
<rect x="353.84" y="87.80" width="1.12" height="18.40" fill="#b8b8b8"/>
<rect x="354.94" y="87.80" width="0.52" height="18.40" fill="#686868"/>
<rect x="355.44" y="87.80" width="0.46" height="18.40" fill="#a0a0a0"/>
<rect x="357.93" y="87.80" width="0.72" height="18.40" fill="#9d9d9d"/>
<rect x="358.63" y="87.80" width="1.12" height="18.40" fill="#c0c0c0"/>
<rect x="359.73" y="87.80" width="0.26" height="18.40" fill="#4f4f4f"/>
<rect x="359.97" y="87.80" width="0.72" height="18.40" fill="#8c8c8c"/>
<rect x="360.67" y="87.80" width="0.72" height="18.40" fill="#cdcdcd"/>
<rect x="361.37" y="87.80" width="0.52" height="18.40" fill="#f3f3f3"/>
<rect x="361.87" y="87.80" width="0.16" height="18.40" fill="#f5f5f5"/>
<rect x="362.01" y="87.80" width="0.52" height="18.40" fill="#bbbbbb"/>
<rect x="362.51" y="87.80" width="0.72" height="18.40" fill="#989898"/>
<rect x="363.21" y="87.80" width="1.12" height="18.40" fill="#b7b7b7"/>
<rect x="364.31" y="87.80" width="0.27" height="18.40" fill="#bababa"/>
<rect x="364.57" y="87.80" width="1.02" height="18.40" fill="#404040"/>
<rect x="365.59" y="87.80" width="1.53" height="18.40" fill="#808080"/>
<rect x="367.12" y="87.80" width="1.53" height="18.40" fill="#cccccc"/>
<rect x="370.70" y="87.80" width="1.12" height="18.40" fill="#141414"/>
<rect x="371.80" y="87.80" width="0.52" height="18.40" fill="#080808"/>
<rect x="372.30" y="87.80" width="0.46" height="18.40" fill="#696969"/>
<rect x="372.74" y="87.80" width="0.52" height="18.40" fill="#b8b8b8"/>
<rect x="373.24" y="87.80" width="1.12" height="18.40" fill="#4c4c4c"/>
<rect x="374.34" y="87.80" width="0.46" height="18.40" fill="#757575"/>
<rect x="374.79" y="87.80" width="0.52" height="18.40" fill="#828282"/>
<rect x="375.29" y="87.80" width="0.52" height="18.40" fill="#0a0a0a"/>
<rect x="375.79" y="87.80" width="0.72" height="18.40" fill="#787878"/>
<rect x="376.49" y="87.80" width="0.36" height="18.40" fill="#282828"/>
<rect x="376.83" y="87.80" width="1.53" height="18.40" fill="#808080"/>
<rect x="378.36" y="87.80" width="0.52" height="18.40" fill="#000000"/>
<rect x="378.86" y="87.80" width="0.52" height="18.40" fill="#333333"/>
<rect x="379.36" y="87.80" width="1.12" height="18.40" fill="#383838"/>
<rect x="380.46" y="87.80" width="0.47" height="18.40" fill="#282828"/>
<rect x="382.96" y="87.80" width="1.53" height="18.40" fill="#d9d9d9"/>
<rect x="387.05" y="87.80" width="1.12" height="18.40" fill="#545454"/>
<rect x="388.15" y="87.80" width="0.52" height="18.40" fill="#9c9c9c"/>
<rect x="388.65" y="87.80" width="0.46" height="18.40" fill="#515151"/>
<rect x="389.09" y="87.80" width="0.52" height="18.40" fill="#4d4d4d"/>
<rect x="389.59" y="87.80" width="0.72" height="18.40" fill="#afafaf"/>
<rect x="390.29" y="87.80" width="0.52" height="18.40" fill="#565656"/>
<rect x="390.79" y="87.80" width="0.36" height="18.40" fill="#cdcdcd"/>
<rect x="393.18" y="87.80" width="1.53" height="18.40" fill="#808080"/>
<rect x="396.25" y="87.80" width="0.72" height="18.40" fill="#4f4f4f"/>
<rect x="396.95" y="87.80" width="0.52" height="18.40" fill="#a1a1a1"/>
<rect x="397.45" y="87.80" width="0.52" height="18.40" fill="#b4b4b4"/>
<rect x="397.95" y="87.80" width="0.52" height="18.40" fill="#b3b3b3"/>
<rect x="398.45" y="87.80" width="0.89" height="18.40" fill="#797979"/>
<rect x="400.84" y="87.80" width="1.12" height="18.40" fill="#3b3b3b"/>
<rect x="401.94" y="87.80" width="0.52" height="18.40" fill="#555555"/>
<rect x="402.44" y="87.80" width="0.92" height="18.40" fill="#1f1f1f"/>
<rect x="403.34" y="87.80" width="0.52" height="18.40" fill="#3d3d3d"/>
<rect x="403.84" y="87.80" width="1.12" height="18.40" fill="#454545"/>
<rect x="404.94" y="87.80" width="0.52" height="18.40" fill="#4a4a4a"/>
<rect x="405.44" y="87.80" width="0.92" height="18.40" fill="#2d2d2d"/>
<rect x="406.34" y="87.80" width="0.52" height="18.40" fill="#222222"/>
<rect x="406.84" y="87.80" width="1.12" height="18.40" fill="#666666"/>
<rect x="407.94" y="87.80" width="0.07" height="18.40" fill="#6f6f6f"/>
<rect x="409.11" y="87.80" width="0.52" height="18.40" fill="#757575"/>
<rect x="409.61" y="87.80" width="0.72" height="18.40" fill="#464646"/>
<rect x="410.31" y="87.80" width="0.86" height="18.40" fill="#818181"/>
<rect x="411.15" y="87.80" width="1.53" height="18.40" fill="#404040"/>
<rect x="413.71" y="87.80" width="1.02" height="18.40" fill="#808080"/>
<rect x="420.86" y="87.80" width="1.53" height="18.40" fill="#808080"/>
<rect x="422.39" y="87.80" width="0.92" height="18.40" fill="#989898"/>
<rect x="423.29" y="87.80" width="0.92" height="18.40" fill="#9d9d9d"/>
<rect x="424.19" y="87.80" width="0.26" height="18.40" fill="#898989"/>
<rect x="424.44" y="87.80" width="1.53" height="18.40" fill="#404040"/>
<rect x="428.52" y="87.80" width="0.72" height="18.40" fill="#5e5e5e"/>
<rect x="429.22" y="87.80" width="0.72" height="18.40" fill="#c5c5c5"/>
<rect x="429.92" y="87.80" width="0.66" height="18.40" fill="#3a3a3a"/>
<rect x="432.10" y="87.80" width="1.53" height="18.40" fill="#808080"/>
<rect x="433.63" y="87.80" width="0.52" height="18.40" fill="#9f9f9f"/>
<rect x="434.13" y="87.80" width="1.12" height="18.40" fill="#888888"/>
<rect x="435.23" y="87.80" width="0.52" height="18.40" fill="#e8e8e8"/>
<rect x="435.73" y="87.80" width="0.92" height="18.40" fill="#878787"/>
<rect x="436.63" y="87.80" width="0.09" height="18.40" fill="#afafaf"/>
<rect x="436.70" y="87.80" width="0.72" height="18.40" fill="#5b5b5b"/>
<rect x="437.40" y="87.80" width="0.92" height="18.40" fill="#353535"/>
<rect x="438.30" y="87.80" width="0.46" height="18.40" fill="#0e0e0e"/>
<rect x="440.79" y="87.80" width="1.53" height="18.40" fill="#808080"/>
<rect x="444.87" y="87.80" width="0.72" height="18.40" fill="#767676"/>
<rect x="445.57" y="87.80" width="1.12" height="18.40" fill="#666666"/>
<rect x="446.67" y="87.80" width="0.72" height="18.40" fill="#717171"/>
<rect x="447.37" y="87.80" width="0.59" height="18.40" fill="#808080"/>
<rect x="451.52" y="87.80" width="0.51" height="18.40" fill="#808080"/>
<rect x="456.12" y="87.80" width="1.53" height="18.40" fill="#808080"/>
<rect x="457.65" y="87.80" width="1.12" height="18.40" fill="#2a2a2a"/>
<rect x="458.75" y="87.80" width="0.52" height="18.40" fill="#202020"/>
<rect x="459.25" y="87.80" width="0.46" height="18.40" fill="#111111"/>
<rect x="462.76" y="87.80" width="1.02" height="18.40" fill="#808080"/>
<rect x="340.30" y="106.20" width="1.03" height="4.50" fill="#c80000"/>
<rect x="341.28" y="106.20" width="1.03" height="4.50" fill="#cc0202"/>
<rect x="342.26" y="106.20" width="1.03" height="4.50" fill="#d00404"/>
<rect x="343.24" y="106.20" width="1.03" height="4.50" fill="#d40606"/>
<rect x="344.22" y="106.20" width="1.03" height="4.50" fill="#d80808"/>
<rect x="345.20" y="106.20" width="1.07" height="4.50" fill="#e42a2a"/>
<rect x="346.22" y="106.20" width="1.07" height="4.50" fill="#e52c2c"/>
<rect x="347.24" y="106.20" width="1.07" height="4.50" fill="#e52d2d"/>
<rect x="348.25" y="106.20" width="1.07" height="4.50" fill="#e62f2f"/>
<rect x="349.27" y="106.20" width="1.07" height="4.50" fill="#e63030"/>
<rect x="350.29" y="106.20" width="1.07" height="4.50" fill="#e73232"/>
<rect x="351.31" y="106.20" width="1.07" height="4.50" fill="#e83434"/>
<rect x="352.32" y="106.20" width="1.07" height="4.50" fill="#e83535"/>
<rect x="353.34" y="106.20" width="1.07" height="4.50" fill="#e93737"/>
<rect x="354.36" y="106.20" width="1.07" height="4.50" fill="#ea3939"/>
<rect x="355.38" y="106.20" width="1.07" height="4.50" fill="#ea3a3a"/>
<rect x="356.39" y="106.20" width="1.07" height="4.50" fill="#eb3c3c"/>
<rect x="357.41" y="106.20" width="1.07" height="4.50" fill="#ec3e3e"/>
<rect x="358.43" y="106.20" width="1.07" height="4.50" fill="#ec3f3f"/>
<rect x="359.45" y="106.20" width="1.07" height="4.50" fill="#ed4141"/>
<rect x="360.46" y="106.20" width="1.07" height="4.50" fill="#ed4242"/>
<rect x="361.48" y="106.20" width="1.07" height="4.50" fill="#ee4444"/>
<rect x="362.50" y="106.20" width="1.00" height="4.50" fill="#f05a66"/>
<rect x="363.45" y="106.20" width="1.00" height="4.50" fill="#f05c68"/>
<rect x="364.40" y="106.20" width="1.00" height="4.50" fill="#f15e69"/>
<rect x="365.35" y="106.20" width="1.00" height="4.50" fill="#f1606b"/>
<rect x="366.30" y="106.20" width="1.00" height="4.50" fill="#f2626c"/>
<rect x="367.25" y="106.20" width="1.00" height="4.50" fill="#f2646e"/>
<rect x="368.20" y="106.20" width="1.00" height="4.50" fill="#f3666f"/>
<rect x="369.15" y="106.20" width="1.00" height="4.50" fill="#f36871"/>
<rect x="370.10" y="106.20" width="1.00" height="4.50" fill="#f46a72"/>
<rect x="371.05" y="106.20" width="1.00" height="4.50" fill="#f46c74"/>
<rect x="372.00" y="106.20" width="1.04" height="4.50" fill="#f77a80"/>
<rect x="372.99" y="106.20" width="1.04" height="4.50" fill="#f77c81"/>
<rect x="373.98" y="106.20" width="1.04" height="4.50" fill="#f87e82"/>
<rect x="374.97" y="106.20" width="1.04" height="4.50" fill="#f87f83"/>
<rect x="375.96" y="106.20" width="1.04" height="4.50" fill="#f88184"/>
<rect x="376.95" y="106.20" width="1.04" height="4.50" fill="#f98386"/>
<rect x="377.94" y="106.20" width="1.04" height="4.50" fill="#f98587"/>
<rect x="378.93" y="106.20" width="1.04" height="4.50" fill="#f98688"/>
<rect x="379.92" y="106.20" width="1.04" height="4.50" fill="#fa8889"/>
<rect x="380.91" y="106.20" width="1.04" height="4.50" fill="#fa8a8a"/>
<rect x="381.90" y="106.20" width="1.05" height="4.50" fill="#f7b5dc"/>
<rect x="382.90" y="106.20" width="1.05" height="4.50" fill="#f7b5dc"/>
<rect x="383.91" y="106.20" width="1.05" height="4.50" fill="#f7b5dc"/>
<rect x="384.91" y="106.20" width="1.05" height="4.50" fill="#f7b5dc"/>
<rect x="385.92" y="106.20" width="1.05" height="4.50" fill="#f7b6dc"/>
<rect x="386.92" y="106.20" width="1.05" height="4.50" fill="#f7b6dc"/>
<rect x="387.92" y="106.20" width="1.05" height="4.50" fill="#f7b6dc"/>
<rect x="388.93" y="106.20" width="1.05" height="4.50" fill="#f7b6dd"/>
<rect x="389.93" y="106.20" width="1.05" height="4.50" fill="#f7b6dd"/>
<rect x="390.94" y="106.20" width="1.05" height="4.50" fill="#f7b6dd"/>
<rect x="391.94" y="106.20" width="1.05" height="4.50" fill="#f7b6dd"/>
<rect x="392.94" y="106.20" width="1.05" height="4.50" fill="#f7b6dd"/>
<rect x="393.95" y="106.20" width="1.05" height="4.50" fill="#f7b6dd"/>
<rect x="394.95" y="106.20" width="1.05" height="4.50" fill="#f7b7dd"/>
<rect x="395.96" y="106.20" width="1.05" height="4.50" fill="#f7b7dd"/>
<rect x="396.96" y="106.20" width="1.05" height="4.50" fill="#f7b7dd"/>
<rect x="397.96" y="106.20" width="1.05" height="4.50" fill="#f7b7dd"/>
<rect x="398.97" y="106.20" width="1.05" height="4.50" fill="#f7b7dd"/>
<rect x="399.97" y="106.20" width="1.05" height="4.50" fill="#f7b7de"/>
<rect x="400.98" y="106.20" width="1.05" height="4.50" fill="#f7b7de"/>
<rect x="401.98" y="106.20" width="1.05" height="4.50" fill="#f7b8de"/>
<rect x="402.98" y="106.20" width="1.05" height="4.50" fill="#f7b8de"/>
<rect x="403.99" y="106.20" width="1.05" height="4.50" fill="#f7b8de"/>
<rect x="404.99" y="106.20" width="1.05" height="4.50" fill="#f7b8de"/>
<rect x="406.00" y="106.20" width="1.05" height="4.50" fill="#f7b8de"/>
<rect x="407.00" y="106.20" width="1.05" height="4.50" fill="#d4d4ff"/>
<rect x="408.00" y="106.20" width="1.05" height="4.50" fill="#d4d4ff"/>
<rect x="409.00" y="106.20" width="1.05" height="4.50" fill="#d3d3ff"/>
<rect x="410.00" y="106.20" width="1.05" height="4.50" fill="#d3d3ff"/>
<rect x="411.00" y="106.20" width="1.05" height="4.50" fill="#d2d2ff"/>
<rect x="412.00" y="106.20" width="1.05" height="4.50" fill="#d2d2ff"/>
<rect x="413.00" y="106.20" width="1.05" height="4.50" fill="#d2d2ff"/>
<rect x="414.00" y="106.20" width="1.05" height="4.50" fill="#d1d1ff"/>
<rect x="415.00" y="106.20" width="1.05" height="4.50" fill="#d1d1ff"/>
<rect x="416.00" y="106.20" width="1.05" height="4.50" fill="#d0d0ff"/>
<rect x="417.00" y="106.20" width="1.05" height="4.50" fill="#d0d0ff"/>
<rect x="418.00" y="106.20" width="1.05" height="4.50" fill="#d0d0ff"/>
<rect x="419.00" y="106.20" width="1.05" height="4.50" fill="#cfcfff"/>
<rect x="420.00" y="106.20" width="1.05" height="4.50" fill="#cfcfff"/>
<rect x="421.00" y="106.20" width="1.05" height="4.50" fill="#ceceff"/>
<rect x="422.00" y="106.20" width="1.05" height="4.50" fill="#ceceff"/>
<rect x="423.00" y="106.20" width="1.05" height="4.50" fill="#ceceff"/>
<rect x="424.00" y="106.20" width="1.05" height="4.50" fill="#cdcdff"/>
<rect x="425.00" y="106.20" width="1.05" height="4.50" fill="#cdcdff"/>
<rect x="426.00" y="106.20" width="1.05" height="4.50" fill="#ccccff"/>
<rect x="427.00" y="106.20" width="1.05" height="4.50" fill="#ccccff"/>
<rect x="428.00" y="106.20" width="1.02" height="4.50" fill="#c0c0ff"/>
<rect x="428.97" y="106.20" width="1.02" height="4.50" fill="#bfbfff"/>
<rect x="429.95" y="106.20" width="1.02" height="4.50" fill="#bebeff"/>
<rect x="430.92" y="106.20" width="1.02" height="4.50" fill="#bcbcff"/>
<rect x="431.89" y="106.20" width="1.02" height="4.50" fill="#bbbbff"/>
<rect x="432.86" y="106.20" width="1.02" height="4.50" fill="#babaff"/>
<rect x="433.84" y="106.20" width="1.02" height="4.50" fill="#b9b9ff"/>
<rect x="434.81" y="106.20" width="1.02" height="4.50" fill="#b8b8ff"/>
<rect x="435.78" y="106.20" width="1.02" height="4.50" fill="#b6b6ff"/>
<rect x="436.75" y="106.20" width="1.02" height="4.50" fill="#b5b5ff"/>
<rect x="437.73" y="106.20" width="1.02" height="4.50" fill="#b4b4ff"/>
<rect x="438.70" y="106.20" width="1.08" height="4.50" fill="#7e7eff"/>
<rect x="439.73" y="106.20" width="1.08" height="4.50" fill="#7c7cff"/>
<rect x="440.76" y="106.20" width="1.08" height="4.50" fill="#7979ff"/>
<rect x="441.79" y="106.20" width="1.08" height="4.50" fill="#7777ff"/>
<rect x="442.81" y="106.20" width="1.08" height="4.50" fill="#7575ff"/>
<rect x="443.84" y="106.20" width="1.08" height="4.50" fill="#7272ff"/>
<rect x="444.87" y="106.20" width="1.08" height="4.50" fill="#7070ff"/>
<rect x="445.90" y="106.20" width="1.02" height="4.50" fill="#5a5af0"/>
<rect x="446.87" y="106.20" width="1.02" height="4.50" fill="#5858ef"/>
<rect x="447.85" y="106.20" width="1.02" height="4.50" fill="#5757ee"/>
<rect x="448.82" y="106.20" width="1.02" height="4.50" fill="#5555ee"/>
<rect x="449.79" y="106.20" width="1.02" height="4.50" fill="#5454ed"/>
<rect x="450.76" y="106.20" width="1.02" height="4.50" fill="#5252ec"/>
<rect x="451.74" y="106.20" width="1.02" height="4.50" fill="#5050eb"/>
<rect x="452.71" y="106.20" width="1.02" height="4.50" fill="#4f4fea"/>
<rect x="453.68" y="106.20" width="1.02" height="4.50" fill="#4d4dea"/>
<rect x="454.65" y="106.20" width="1.02" height="4.50" fill="#4c4ce9"/>
<rect x="455.63" y="106.20" width="1.02" height="4.50" fill="#4a4ae8"/>
<rect x="456.60" y="106.20" width="1.07" height="4.50" fill="#1a10cc"/>
<rect x="457.62" y="106.20" width="1.07" height="4.50" fill="#1a10cc"/>
<rect x="458.65" y="106.20" width="1.08" height="4.50" fill="#1a10cc"/>
<rect x="459.68" y="106.20" width="1.07" height="4.50" fill="#1a10cc"/>
<rect x="460.70" y="106.20" width="1.07" height="4.50" fill="#4000a8"/>
<rect x="461.72" y="106.20" width="1.07" height="4.50" fill="#4000a8"/>
<rect x="462.74" y="106.20" width="1.07" height="4.50" fill="#4000a8"/>
<rect x="463.76" y="106.20" width="1.07" height="4.50" fill="#4000a8"/>
<rect x="464.78" y="106.20" width="1.07" height="4.50" fill="#4000a8"/>
<line x1="465.80" y1="106.20" x2="472.00" y2="106.20" stroke="#d4d4d4" stroke-width="0.5"/>
<line x1="465.80" y1="110.70" x2="472.00" y2="110.70" stroke="#d4d4d4" stroke-width="0.5"/>
<line x1="340.20" y1="87.50" x2="472.00" y2="87.50" stroke="#d8d8d8" stroke-width="0.4"/>
<text x="338.60" y="121.65" font-size="3.5" text-anchor="end" fill="#3a3a3a">2.5</text>
<line x1="340.20" y1="130.10" x2="472.00" y2="130.10" stroke="#e4e4e4" stroke-width="0.5"/>
<text x="338.60" y="131.35" font-size="3.5" text-anchor="end" fill="#3a3a3a">0.0</text>
<text x="338.60" y="141.05" font-size="3.5" text-anchor="end" fill="#3a3a3a">-2.5</text>
<line x1="407.00" y1="110.70" x2="407.00" y2="148.80" stroke="#d0d0d0" stroke-width="0.5" stroke-dasharray="1,1"/>
<polygon points="340.30,111.50 341.50,112.00 343.70,114.00 346.50,117.40 349.40,120.30 353.20,123.10 358.90,125.20 365.60,126.70 375.10,127.90 384.70,128.60 392.30,129.20 405.00,129.70 420.40,130.00 420.40,130.10 340.30,130.10" fill="#bdbdbd" stroke="none" stroke-width="1"/>
<polygon points="420.40,130.10 429.10,131.00 438.60,132.20 448.10,134.30 453.90,136.70 458.60,140.00 462.00,143.80 463.40,146.70 466.00,146.70 466.00,130.10" fill="#bdbdbd" stroke="none" stroke-width="1"/>
<line x1="420.40" y1="130.10" x2="466.00" y2="130.10" stroke="#bdbdbd" stroke-width="0.5"/>
<text x="407.00" y="131.30" font-size="3.5" text-anchor="middle" fill="#1a1a1a" textLength="26.799999999999955" lengthAdjust="spacingAndGlyphs">Zero cross at 6785</text>
<text x="341.40" y="113.60" font-size="3.5" text-anchor="start" fill="#ff0000" textLength="45.3" lengthAdjust="spacingAndGlyphs">'na_pos' (positively correlated)</text>
<text x="429.90" y="147.00" font-size="3.5" text-anchor="middle" fill="#0000ff" textLength="45.80000000000001" lengthAdjust="spacingAndGlyphs">'na_neg' (negatively correlated)</text>
<polyline points="340.60,84.30 341.60,69.60 342.40,59.50 342.75,52.30 343.90,45.60 345.25,46.10 346.60,47.40 347.90,44.30 348.80,39.80 350.20,38.50 351.10,36.25 352.20,35.20 353.30,34.50 354.50,34.69 355.70,34.60 356.90,34.90 358.07,34.57 359.23,34.09 360.40,33.60 361.30,33.80 362.20,34.18 363.10,34.41 364.00,34.41 364.90,34.90 365.80,34.50 366.91,34.84 368.02,35.21 369.14,35.48 370.25,35.80 371.43,36.42 372.62,36.78 373.80,37.10 374.70,37.02 375.60,36.92 376.50,36.85 377.40,37.18 378.30,37.00 379.50,37.73 380.70,38.32 381.90,38.90 383.07,39.77 384.23,40.70 385.40,41.60 386.34,42.07 387.29,42.84 388.23,43.26 389.18,44.10 390.12,44.72 391.07,45.35 392.01,45.75 392.96,46.28 393.90,47.10 394.80,47.65 395.70,48.45 396.60,48.99 397.50,49.74 398.40,50.22 399.30,50.83 400.20,51.71 401.10,51.97 402.00,52.62 402.90,53.40 403.89,54.13 404.88,54.84 405.87,55.43 406.86,56.18 407.84,56.81 408.83,57.62 409.82,58.42 410.81,59.07 411.80,59.60 412.79,60.37 413.78,60.99 414.77,61.92 415.76,62.37 416.74,63.16 417.73,63.98 418.72,64.59 419.71,65.15 420.70,65.90 421.66,66.58 422.61,67.06 423.57,67.78 424.53,68.19 425.49,68.70 426.44,69.48 427.40,69.80 428.50,70.59 429.60,71.30 430.70,72.34 431.80,72.90 432.88,73.58 433.96,73.66 435.04,74.07 436.12,74.92 437.20,75.20 438.55,75.84 439.90,76.10 440.96,76.66 442.02,77.22 443.08,78.05 444.14,78.80 445.20,79.20 446.55,78.83 447.90,78.75 448.80,79.29 449.70,79.96 450.60,80.30 451.50,81.00 452.60,81.73 453.70,82.37 454.80,83.31 455.90,84.10 457.30,82.80 458.40,81.96 459.50,81.40 460.40,81.89 461.30,82.80 462.60,84.10 464.00,82.30 465.30,83.24 466.60,84.30" fill="none" stroke="#00ff00" stroke-width="1.5" stroke-linejoin="round" stroke-linecap="round"/>
<text x="341.00" y="153.30" font-size="3.5" text-anchor="middle" fill="#3a3a3a">0</text>
<text x="369.60" y="153.30" font-size="3.5" text-anchor="middle" fill="#3a3a3a">2,500</text>
<text x="398.20" y="153.30" font-size="3.5" text-anchor="middle" fill="#3a3a3a">5,000</text>
<text x="426.80" y="153.30" font-size="3.5" text-anchor="middle" fill="#3a3a3a">7,500</text>
<text x="455.40" y="153.30" font-size="3.5" text-anchor="middle" fill="#3a3a3a">10,000</text>
<text x="406.20" y="158.45" font-size="4.3" text-anchor="middle" fill="#2a2a2a" textLength="46.19999999999999" lengthAdjust="spacingAndGlyphs">Rank in Ordered Dataset</text>
<text x="0.00" y="0.00" font-size="3.9" text-anchor="middle" fill="#3a3a3a" textLength="43.7" lengthAdjust="spacingAndGlyphs" transform="translate(330.70,58.40) rotate(-90)">Enrichment score (ES)</text>
<text x="0.00" y="0.00" font-size="3.9" text-anchor="middle" fill="#3a3a3a" textLength="58" lengthAdjust="spacingAndGlyphs" transform="translate(330.70,130.00) rotate(-90)">Ranked list metric (PreRanked)</text>
<rect x="341.30" y="161.30" width="114.60" height="6.00" fill="#fff" stroke="#555" stroke-width="0.6"/>
<line x1="341.90" y1="164.30" x2="347.30" y2="164.30" stroke="#00ee00" stroke-width="0.9"/>
<text x="348.30" y="165.80" font-size="4.3" text-anchor="start" fill="#222" textLength="35" lengthAdjust="spacingAndGlyphs">Enrichment profile</text>
<line x1="385.80" y1="164.30" x2="389.80" y2="164.30" stroke="#555" stroke-width="0.5"/>
<text x="391.30" y="165.80" font-size="4.3" text-anchor="start" fill="#222" textLength="7" lengthAdjust="spacingAndGlyphs">Hits</text>
<line x1="406.30" y1="164.30" x2="410.30" y2="164.30" stroke="#ddd" stroke-width="0.5"/>
<text x="411.90" y="165.80" font-size="4.3" text-anchor="start" fill="#222" textLength="43.4" lengthAdjust="spacingAndGlyphs">Ranking metric scores</text>
<text x="-1.30" y="13.00" font-size="19" text-anchor="start" fill="#000" font-weight="bold">a</text>
<text x="486.70" y="13.50" font-size="19" text-anchor="start" fill="#000" font-weight="bold">b</text>
<rect x="538.30" y="16.90" width="15.90" height="11.33" fill="#ff7373"/>
<rect x="554.20" y="16.90" width="16.30" height="11.33" fill="#ff9a9a"/>
<rect x="570.50" y="16.90" width="15.95" height="11.33" fill="#ff3535"/>
<rect x="586.45" y="16.90" width="16.00" height="11.33" fill="#c8c8ff"/>
<rect x="602.45" y="16.90" width="16.95" height="11.33" fill="#3838ff"/>
<rect x="619.40" y="16.90" width="16.30" height="11.33" fill="#4545ff"/>
<rect x="538.30" y="28.23" width="15.90" height="11.33" fill="#ff1515"/>
<rect x="554.20" y="28.23" width="16.30" height="11.33" fill="#ff8585"/>
<rect x="570.50" y="28.23" width="15.95" height="11.33" fill="#ffaaaa"/>
<rect x="586.45" y="28.23" width="16.00" height="11.33" fill="#a8a8ff"/>
<rect x="602.45" y="28.23" width="16.95" height="11.33" fill="#3030ff"/>
<rect x="619.40" y="28.23" width="16.30" height="11.33" fill="#6a6aff"/>
<rect x="538.30" y="39.56" width="15.90" height="11.33" fill="#ff4c4c"/>
<rect x="554.20" y="39.56" width="16.30" height="11.33" fill="#ff4545"/>
<rect x="570.50" y="39.56" width="15.95" height="11.33" fill="#ffaaaa"/>
<rect x="586.45" y="39.56" width="16.00" height="11.33" fill="#c8c8ff"/>
<rect x="602.45" y="39.56" width="16.95" height="11.33" fill="#2a2aff"/>
<rect x="619.40" y="39.56" width="16.30" height="11.33" fill="#5858ff"/>
<rect x="538.30" y="50.89" width="15.90" height="11.33" fill="#1010ff"/>
<rect x="554.20" y="50.89" width="16.30" height="11.33" fill="#9090ff"/>
<rect x="570.50" y="50.89" width="15.95" height="11.33" fill="#a0a0ff"/>
<rect x="586.45" y="50.89" width="16.00" height="11.33" fill="#ffb0b0"/>
<rect x="602.45" y="50.89" width="16.95" height="11.33" fill="#ff7070"/>
<rect x="619.40" y="50.89" width="16.30" height="11.33" fill="#ff3030"/>
<rect x="538.30" y="62.22" width="15.90" height="11.33" fill="#3030ff"/>
<rect x="554.20" y="62.22" width="16.30" height="11.33" fill="#7878ff"/>
<rect x="570.50" y="62.22" width="15.95" height="11.33" fill="#9a9aff"/>
<rect x="586.45" y="62.22" width="16.00" height="11.33" fill="#ffbcbc"/>
<rect x="602.45" y="62.22" width="16.95" height="11.33" fill="#ff7070"/>
<rect x="619.40" y="62.22" width="16.30" height="11.33" fill="#ff2020"/>
<rect x="538.30" y="73.55" width="15.90" height="11.33" fill="#2020ff"/>
<rect x="554.20" y="73.55" width="16.30" height="11.33" fill="#8080ff"/>
<rect x="570.50" y="73.55" width="15.95" height="11.33" fill="#a0a0ff"/>
<rect x="586.45" y="73.55" width="16.00" height="11.33" fill="#ffb5b5"/>
<rect x="602.45" y="73.55" width="16.95" height="11.33" fill="#ff7070"/>
<rect x="619.40" y="73.55" width="16.30" height="11.33" fill="#ff2828"/>
<rect x="538.30" y="84.88" width="15.90" height="11.33" fill="#3535ff"/>
<rect x="554.20" y="84.88" width="16.30" height="11.33" fill="#5555ff"/>
<rect x="570.50" y="84.88" width="15.95" height="11.33" fill="#b5b5ff"/>
<rect x="586.45" y="84.88" width="16.00" height="11.33" fill="#ffc0c0"/>
<rect x="602.45" y="84.88" width="16.95" height="11.33" fill="#ff5050"/>
<rect x="619.40" y="84.88" width="16.30" height="11.33" fill="#ff3c3c"/>
<rect x="538.30" y="96.21" width="15.90" height="11.33" fill="#3838ff"/>
<rect x="554.20" y="96.21" width="16.30" height="11.33" fill="#6868ff"/>
<rect x="570.50" y="96.21" width="15.95" height="11.33" fill="#9898ff"/>
<rect x="586.45" y="96.21" width="16.00" height="11.33" fill="#ffc0c0"/>
<rect x="602.45" y="96.21" width="16.95" height="11.33" fill="#ff3838"/>
<rect x="619.40" y="96.21" width="16.30" height="11.33" fill="#ff5050"/>
<rect x="538.30" y="107.54" width="15.90" height="11.33" fill="#3c3cff"/>
<rect x="554.20" y="107.54" width="16.30" height="11.33" fill="#6e6eff"/>
<rect x="570.50" y="107.54" width="15.95" height="11.33" fill="#9a9aff"/>
<rect x="586.45" y="107.54" width="16.00" height="11.33" fill="#ffc0c0"/>
<rect x="602.45" y="107.54" width="16.95" height="11.33" fill="#ff3535"/>
<rect x="619.40" y="107.54" width="16.30" height="11.33" fill="#ff4545"/>
<rect x="538.30" y="118.88" width="15.90" height="11.33" fill="#1515ff"/>
<rect x="554.20" y="118.88" width="16.30" height="11.33" fill="#8a8aff"/>
<rect x="570.50" y="118.88" width="15.95" height="11.33" fill="#aaaaff"/>
<rect x="586.45" y="118.88" width="16.00" height="11.33" fill="#ffb0b0"/>
<rect x="602.45" y="118.88" width="16.95" height="11.33" fill="#ff2a2a"/>
<rect x="619.40" y="118.88" width="16.30" height="11.33" fill="#ff7070"/>
<rect x="538.30" y="130.21" width="15.90" height="11.33" fill="#3030ff"/>
<rect x="554.20" y="130.21" width="16.30" height="11.33" fill="#a0a0ff"/>
<rect x="570.50" y="130.21" width="15.95" height="11.33" fill="#7070ff"/>
<rect x="586.45" y="130.21" width="16.00" height="11.33" fill="#ffb5b5"/>
<rect x="602.45" y="130.21" width="16.95" height="11.33" fill="#ff3535"/>
<rect x="619.40" y="130.21" width="16.30" height="11.33" fill="#ff7070"/>
<rect x="538.30" y="141.54" width="15.90" height="11.33" fill="#6060ff"/>
<rect x="554.20" y="141.54" width="16.30" height="11.33" fill="#c5c5ff"/>
<rect x="570.50" y="141.54" width="15.95" height="11.33" fill="#2525ff"/>
<rect x="586.45" y="141.54" width="16.00" height="11.33" fill="#ffc0c0"/>
<rect x="602.45" y="141.54" width="16.95" height="11.33" fill="#ff3535"/>
<rect x="619.40" y="141.54" width="16.30" height="11.33" fill="#ff6565"/>
<rect x="538.30" y="152.87" width="15.90" height="11.33" fill="#5555ff"/>
<rect x="554.20" y="152.87" width="16.30" height="11.33" fill="#c0c0ff"/>
<rect x="570.50" y="152.87" width="15.95" height="11.33" fill="#2a2aff"/>
<rect x="586.45" y="152.87" width="16.00" height="11.33" fill="#ffc0c0"/>
<rect x="602.45" y="152.87" width="16.95" height="11.33" fill="#ff2a2a"/>
<rect x="619.40" y="152.87" width="16.30" height="11.33" fill="#ff6060"/>
<rect x="538.30" y="164.20" width="15.90" height="11.33" fill="#1515ff"/>
<rect x="554.20" y="164.20" width="16.30" height="11.33" fill="#b0b0ff"/>
<rect x="570.50" y="164.20" width="15.95" height="11.33" fill="#7a7aff"/>
<rect x="586.45" y="164.20" width="16.00" height="11.33" fill="#ffbaba"/>
<rect x="602.45" y="164.20" width="16.95" height="11.33" fill="#ff6060"/>
<rect x="619.40" y="164.20" width="16.30" height="11.33" fill="#ff3030"/>
<rect x="538.30" y="175.53" width="15.90" height="11.33" fill="#2525ff"/>
<rect x="554.20" y="175.53" width="16.30" height="11.33" fill="#b8b8ff"/>
<rect x="570.50" y="175.53" width="15.95" height="11.33" fill="#6060ff"/>
<rect x="586.45" y="175.53" width="16.00" height="11.33" fill="#ffbcbc"/>
<rect x="602.45" y="175.53" width="16.95" height="11.33" fill="#ff5a5a"/>
<rect x="619.40" y="175.53" width="16.30" height="11.33" fill="#ff2525"/>
<rect x="538.30" y="186.86" width="15.90" height="11.33" fill="#3535ff"/>
<rect x="554.20" y="186.86" width="16.30" height="11.33" fill="#aaaaff"/>
<rect x="570.50" y="186.86" width="15.95" height="11.33" fill="#5555ff"/>
<rect x="586.45" y="186.86" width="16.00" height="11.33" fill="#ffb5b5"/>
<rect x="602.45" y="186.86" width="16.95" height="11.33" fill="#ff5050"/>
<rect x="619.40" y="186.86" width="16.30" height="11.33" fill="#ff3535"/>
<rect x="538.30" y="198.19" width="15.90" height="11.33" fill="#4545ff"/>
<rect x="554.20" y="198.19" width="16.30" height="11.33" fill="#b8b8ff"/>
<rect x="570.50" y="198.19" width="15.95" height="11.33" fill="#2c2cff"/>
<rect x="586.45" y="198.19" width="16.00" height="11.33" fill="#ffb5b5"/>
<rect x="602.45" y="198.19" width="16.95" height="11.33" fill="#ff5050"/>
<rect x="619.40" y="198.19" width="16.30" height="11.33" fill="#ff3c3c"/>
<rect x="538.30" y="209.52" width="15.90" height="11.33" fill="#3a3aff"/>
<rect x="554.20" y="209.52" width="16.30" height="11.33" fill="#bcbcff"/>
<rect x="570.50" y="209.52" width="15.95" height="11.33" fill="#3535ff"/>
<rect x="586.45" y="209.52" width="16.00" height="11.33" fill="#ffb5b5"/>
<rect x="602.45" y="209.52" width="16.95" height="11.33" fill="#ff5a5a"/>
<rect x="619.40" y="209.52" width="16.30" height="11.33" fill="#ff3030"/>
<line x1="554.20" y1="16.90" x2="554.20" y2="220.85" stroke="#ffffff" stroke-width="0.85"/>
<line x1="570.50" y1="16.90" x2="570.50" y2="220.85" stroke="#ffffff" stroke-width="0.85"/>
<line x1="586.45" y1="16.90" x2="586.45" y2="220.85" stroke="#ffffff" stroke-width="0.85"/>
<line x1="602.45" y1="16.90" x2="602.45" y2="220.85" stroke="#ffffff" stroke-width="0.85"/>
<line x1="619.40" y1="16.90" x2="619.40" y2="220.85" stroke="#ffffff" stroke-width="0.85"/>
<line x1="538.30" y1="28.23" x2="635.70" y2="28.23" stroke="#ffffff" stroke-width="0.85"/>
<line x1="538.30" y1="39.56" x2="635.70" y2="39.56" stroke="#ffffff" stroke-width="0.85"/>
<line x1="538.30" y1="50.89" x2="635.70" y2="50.89" stroke="#ffffff" stroke-width="0.85"/>
<line x1="538.30" y1="62.22" x2="635.70" y2="62.22" stroke="#ffffff" stroke-width="0.85"/>
<line x1="538.30" y1="73.55" x2="635.70" y2="73.55" stroke="#ffffff" stroke-width="0.85"/>
<line x1="538.30" y1="84.88" x2="635.70" y2="84.88" stroke="#ffffff" stroke-width="0.85"/>
<line x1="538.30" y1="96.21" x2="635.70" y2="96.21" stroke="#ffffff" stroke-width="0.85"/>
<line x1="538.30" y1="107.54" x2="635.70" y2="107.54" stroke="#ffffff" stroke-width="0.85"/>
<line x1="538.30" y1="118.88" x2="635.70" y2="118.88" stroke="#ffffff" stroke-width="0.85"/>
<line x1="538.30" y1="130.21" x2="635.70" y2="130.21" stroke="#ffffff" stroke-width="0.85"/>
<line x1="538.30" y1="141.54" x2="635.70" y2="141.54" stroke="#ffffff" stroke-width="0.85"/>
<line x1="538.30" y1="152.87" x2="635.70" y2="152.87" stroke="#ffffff" stroke-width="0.85"/>
<line x1="538.30" y1="164.20" x2="635.70" y2="164.20" stroke="#ffffff" stroke-width="0.85"/>
<line x1="538.30" y1="175.53" x2="635.70" y2="175.53" stroke="#ffffff" stroke-width="0.85"/>
<line x1="538.30" y1="186.86" x2="635.70" y2="186.86" stroke="#ffffff" stroke-width="0.85"/>
<line x1="538.30" y1="198.19" x2="635.70" y2="198.19" stroke="#ffffff" stroke-width="0.85"/>
<line x1="538.30" y1="209.52" x2="635.70" y2="209.52" stroke="#ffffff" stroke-width="0.85"/>
<line x1="635.70" y1="22.87" x2="638.00" y2="22.87" stroke="#222" stroke-width="1.0"/>
<text x="639.20" y="25.22" font-size="6.4" text-anchor="start" fill="#111" font-weight="bold" textLength="48.299999999999955" lengthAdjust="spacingAndGlyphs" stroke="#111" stroke-width="0.2">ERVB4_2-LTR_MM</text>
<line x1="635.70" y1="34.20" x2="638.00" y2="34.20" stroke="#222" stroke-width="1.0"/>
<text x="639.20" y="36.55" font-size="6.4" text-anchor="start" fill="#111" font-weight="bold" textLength="26.199999999999932" lengthAdjust="spacingAndGlyphs" stroke="#111" stroke-width="0.2">RLTR20B2</text>
<line x1="635.70" y1="45.53" x2="638.00" y2="45.53" stroke="#222" stroke-width="1.0"/>
<text x="639.20" y="47.88" font-size="6.4" text-anchor="start" fill="#111" font-weight="bold" textLength="27.799999999999955" lengthAdjust="spacingAndGlyphs" stroke="#111" stroke-width="0.2">MLT1A0-int</text>
<line x1="635.70" y1="56.86" x2="638.00" y2="56.86" stroke="#222" stroke-width="1.0"/>
<text x="639.20" y="59.21" font-size="6.4" text-anchor="start" fill="#111" font-weight="bold" textLength="22.299999999999955" lengthAdjust="spacingAndGlyphs" stroke="#111" stroke-width="0.2">RLTR9D</text>
<line x1="635.70" y1="68.19" x2="638.00" y2="68.19" stroke="#222" stroke-width="1.0"/>
<text x="639.20" y="70.54" font-size="6.4" text-anchor="start" fill="#111" font-weight="bold" textLength="26.59999999999991" lengthAdjust="spacingAndGlyphs" stroke="#111" stroke-width="0.2">MTE2b-int</text>
<line x1="635.70" y1="79.52" x2="638.00" y2="79.52" stroke="#222" stroke-width="1.0"/>
<text x="639.20" y="81.87" font-size="6.4" text-anchor="start" fill="#111" font-weight="bold" textLength="23.699999999999932" lengthAdjust="spacingAndGlyphs" stroke="#111" stroke-width="0.2">MTB_Mm</text>
<line x1="635.70" y1="90.85" x2="638.00" y2="90.85" stroke="#222" stroke-width="1.0"/>
<text x="639.20" y="93.20" font-size="6.4" text-anchor="start" fill="#111" font-weight="bold" textLength="27.299999999999955" lengthAdjust="spacingAndGlyphs" stroke="#111" stroke-width="0.2">RMER6-int</text>
<line x1="635.70" y1="102.18" x2="638.00" y2="102.18" stroke="#222" stroke-width="1.0"/>
<text x="639.20" y="104.53" font-size="6.4" text-anchor="start" fill="#111" font-weight="bold" textLength="23.09999999999991" lengthAdjust="spacingAndGlyphs" stroke="#111" stroke-width="0.2">RLTR46B</text>
<line x1="635.70" y1="113.51" x2="638.00" y2="113.51" stroke="#222" stroke-width="1.0"/>
<text x="639.20" y="115.86" font-size="6.4" text-anchor="start" fill="#111" font-weight="bold" textLength="23.09999999999991" lengthAdjust="spacingAndGlyphs" stroke="#111" stroke-width="0.2">RLTR25A</text>
<line x1="635.70" y1="124.84" x2="638.00" y2="124.84" stroke="#222" stroke-width="1.0"/>
<text x="639.20" y="127.19" font-size="6.4" text-anchor="start" fill="#111" font-weight="bold" textLength="22.09999999999991" lengthAdjust="spacingAndGlyphs" stroke="#111" stroke-width="0.2">RMER16</text>
<line x1="635.70" y1="136.17" x2="638.00" y2="136.17" stroke="#222" stroke-width="1.0"/>
<text x="639.20" y="138.52" font-size="6.4" text-anchor="start" fill="#111" font-weight="bold" textLength="30.399999999999977" lengthAdjust="spacingAndGlyphs" stroke="#111" stroke-width="0.2">ORR1A1-int</text>
<line x1="635.70" y1="147.50" x2="638.00" y2="147.50" stroke="#222" stroke-width="1.0"/>
<text x="639.20" y="149.85" font-size="6.4" text-anchor="start" fill="#111" font-weight="bold" textLength="17.799999999999955" lengthAdjust="spacingAndGlyphs" stroke="#111" stroke-width="0.2">MER89</text>
<line x1="635.70" y1="158.83" x2="638.00" y2="158.83" stroke="#222" stroke-width="1.0"/>
<text x="639.20" y="161.18" font-size="6.4" text-anchor="start" fill="#111" font-weight="bold" textLength="21.59999999999991" lengthAdjust="spacingAndGlyphs" stroke="#111" stroke-width="0.2">MER121</text>
<line x1="635.70" y1="170.16" x2="638.00" y2="170.16" stroke="#222" stroke-width="1.0"/>
<text x="639.20" y="172.51" font-size="6.4" text-anchor="start" fill="#111" font-weight="bold" textLength="18.799999999999955" lengthAdjust="spacingAndGlyphs" stroke="#111" stroke-width="0.2">RLTR23</text>
<line x1="635.70" y1="181.49" x2="638.00" y2="181.49" stroke="#222" stroke-width="1.0"/>
<text x="639.20" y="183.84" font-size="6.4" text-anchor="start" fill="#111" font-weight="bold" textLength="31.399999999999977" lengthAdjust="spacingAndGlyphs" stroke="#111" stroke-width="0.2">RLTR6C_Mm</text>
<line x1="635.70" y1="192.82" x2="638.00" y2="192.82" stroke="#222" stroke-width="1.0"/>
<text x="639.20" y="195.17" font-size="6.4" text-anchor="start" fill="#111" font-weight="bold" textLength="41.799999999999955" lengthAdjust="spacingAndGlyphs" stroke="#111" stroke-width="0.2">ERVB4_1B-I_MM</text>
<line x1="635.70" y1="204.15" x2="638.00" y2="204.15" stroke="#222" stroke-width="1.0"/>
<text x="639.20" y="206.50" font-size="6.4" text-anchor="start" fill="#111" font-weight="bold" textLength="18.799999999999955" lengthAdjust="spacingAndGlyphs" stroke="#111" stroke-width="0.2">RLTR26</text>
<line x1="635.70" y1="215.48" x2="638.00" y2="215.48" stroke="#222" stroke-width="1.0"/>
<text x="639.20" y="217.83" font-size="6.4" text-anchor="start" fill="#111" font-weight="bold" textLength="15.799999999999955" lengthAdjust="spacingAndGlyphs" stroke="#111" stroke-width="0.2">LTR78</text>
<line x1="546.25" y1="15.00" x2="546.25" y2="16.30" stroke="#bbb" stroke-width="0.5"/>
<line x1="562.35" y1="15.00" x2="562.35" y2="16.30" stroke="#bbb" stroke-width="0.5"/>
<line x1="578.48" y1="15.00" x2="578.48" y2="16.30" stroke="#bbb" stroke-width="0.5"/>
<line x1="594.45" y1="15.00" x2="594.45" y2="16.30" stroke="#bbb" stroke-width="0.5"/>
<line x1="610.92" y1="15.00" x2="610.92" y2="16.30" stroke="#bbb" stroke-width="0.5"/>
<line x1="627.55" y1="15.00" x2="627.55" y2="16.30" stroke="#bbb" stroke-width="0.5"/>
<line x1="546.25" y1="221.80" x2="546.25" y2="223.60" stroke="#333" stroke-width="0.7"/>
<text x="546.25" y="232.10" font-size="8.6" text-anchor="middle" fill="#111">1</text>
<line x1="562.35" y1="221.80" x2="562.35" y2="223.60" stroke="#333" stroke-width="0.7"/>
<text x="562.35" y="232.10" font-size="8.6" text-anchor="middle" fill="#111">2</text>
<line x1="578.48" y1="221.80" x2="578.48" y2="223.60" stroke="#333" stroke-width="0.7"/>
<text x="578.48" y="232.10" font-size="8.6" text-anchor="middle" fill="#111">3</text>
<line x1="594.45" y1="221.80" x2="594.45" y2="223.60" stroke="#333" stroke-width="0.7"/>
<text x="594.45" y="232.10" font-size="8.6" text-anchor="middle" fill="#111">1</text>
<line x1="610.92" y1="221.80" x2="610.92" y2="223.60" stroke="#333" stroke-width="0.7"/>
<text x="610.92" y="232.10" font-size="8.6" text-anchor="middle" fill="#111">2</text>
<line x1="627.55" y1="221.80" x2="627.55" y2="223.60" stroke="#333" stroke-width="0.7"/>
<text x="627.55" y="232.10" font-size="8.6" text-anchor="middle" fill="#111">3</text>
<line x1="541.70" y1="234.50" x2="584.00" y2="234.50" stroke="#111" stroke-width="0.9"/>
<line x1="590.00" y1="234.50" x2="632.50" y2="234.50" stroke="#111" stroke-width="0.9"/>
<text x="547.6" y="246.7" font-size="10.8" font-style="italic" fill="#111">Adar<tspan font-size="6.6" dy="-3.3" font-style="normal">fl/fl</tspan></text>
<text x="594.0" y="246.7" font-size="10.8" font-style="italic" fill="#111">Adar<tspan font-size="6.6" dy="-3.3" font-style="normal">IΔgut</tspan></text>
<defs><linearGradient id="cbg" x1="0" y1="0" x2="0" y2="1"><stop offset="0" stop-color="#ff0000"/><stop offset="0.12" stop-color="#ff0000"/><stop offset="0.5" stop-color="#ffffff"/><stop offset="0.88" stop-color="#0000ff"/><stop offset="1" stop-color="#0000ff"/></linearGradient></defs>
<rect x="515.00" y="17.10" width="10.20" height="55.30" fill="url(#cbg)"/>
<line x1="525.20" y1="26.70" x2="527.40" y2="26.70" stroke="#222" stroke-width="0.7"/>
<text x="528.60" y="29.20" font-size="7.0" text-anchor="start" fill="#111" font-weight="bold">1</text>
<line x1="525.20" y1="45.70" x2="527.40" y2="45.70" stroke="#222" stroke-width="0.7"/>
<text x="528.60" y="48.20" font-size="7.0" text-anchor="start" fill="#111" font-weight="bold">0</text>
<line x1="525.20" y1="63.60" x2="527.40" y2="63.60" stroke="#222" stroke-width="0.7"/>
<text x="528.60" y="66.10" font-size="7.0" text-anchor="start" fill="#111" font-weight="bold">−1</text>
<text x="5.10" y="196.50" font-size="19" text-anchor="start" fill="#000" font-weight="bold">c</text>
<line x1="27.70" y1="209.30" x2="27.70" y2="295.90" stroke="#4a4a4a" stroke-width="1.3"/>
<line x1="27.10" y1="295.30" x2="83.90" y2="295.30" stroke="#4a4a4a" stroke-width="1.3"/>
<line x1="25.70" y1="295.30" x2="27.70" y2="295.30" stroke="#4a4a4a" stroke-width="1.0"/>
<text x="25.10" y="297.30" font-size="5.7" text-anchor="end" fill="#222" font-weight="bold" stroke="#222" stroke-width="0.12">0</text>
<line x1="25.70" y1="278.20" x2="27.70" y2="278.20" stroke="#4a4a4a" stroke-width="1.0"/>
<text x="25.10" y="280.20" font-size="5.7" text-anchor="end" fill="#222" font-weight="bold" stroke="#222" stroke-width="0.12">1</text>
<line x1="25.70" y1="261.10" x2="27.70" y2="261.10" stroke="#4a4a4a" stroke-width="1.0"/>
<text x="25.10" y="263.10" font-size="5.7" text-anchor="end" fill="#222" font-weight="bold" stroke="#222" stroke-width="0.12">2</text>
<line x1="25.70" y1="244.00" x2="27.70" y2="244.00" stroke="#4a4a4a" stroke-width="1.0"/>
<text x="25.10" y="246.00" font-size="5.7" text-anchor="end" fill="#222" font-weight="bold" stroke="#222" stroke-width="0.12">3</text>
<line x1="25.70" y1="226.90" x2="27.70" y2="226.90" stroke="#4a4a4a" stroke-width="1.0"/>
<text x="25.10" y="228.90" font-size="5.7" text-anchor="end" fill="#222" font-weight="bold" stroke="#222" stroke-width="0.12">4</text>
<line x1="25.70" y1="209.80" x2="27.70" y2="209.80" stroke="#4a4a4a" stroke-width="1.0"/>
<text x="25.10" y="211.80" font-size="5.7" text-anchor="end" fill="#222" font-weight="bold" stroke="#222" stroke-width="0.12">5</text>
<rect x="36.25" y="278.20" width="15.55" height="17.10" fill="#d9d9d9" stroke="#222" stroke-width="1.1"/>
<rect x="59.50" y="237.90" width="16.40" height="57.40" fill="#ff6600"/>
<line x1="44.02" y1="295.30" x2="44.02" y2="297.10" stroke="#222" stroke-width="0.8"/>
<line x1="67.70" y1="295.30" x2="67.70" y2="297.10" stroke="#222" stroke-width="0.8"/>
<line x1="44.00" y1="272.50" x2="44.00" y2="284.00" stroke="#111" stroke-width="0.9"/>
<line x1="39.60" y1="272.50" x2="48.20" y2="272.50" stroke="#111" stroke-width="0.9"/>
<line x1="39.60" y1="284.00" x2="48.20" y2="284.00" stroke="#111" stroke-width="0.9"/>
<line x1="67.60" y1="228.20" x2="67.60" y2="247.30" stroke="#111" stroke-width="0.9"/>
<line x1="63.90" y1="228.20" x2="71.40" y2="228.20" stroke="#111" stroke-width="0.9"/>
<line x1="63.90" y1="247.30" x2="71.40" y2="247.30" stroke="#111" stroke-width="0.9"/>
<circle cx="43.75" cy="266.40" r="1.55" fill="#111"/>
<circle cx="41.10" cy="283.75" r="1.55" fill="#111"/>
<circle cx="46.80" cy="283.20" r="1.55" fill="#111"/>
<circle cx="67.50" cy="221.40" r="1.55" fill="#111"/>
<circle cx="67.50" cy="237.00" r="1.55" fill="#111"/>
<circle cx="67.50" cy="254.30" r="1.55" fill="#111"/>
<text x="54.10" y="202.10" font-size="6.2" text-anchor="middle" fill="#222" font-weight="bold" font-style="italic" textLength="26.799999999999997" lengthAdjust="spacingAndGlyphs" stroke="#222" stroke-width="0.06">RLTR25A</text>
<text x="55.90" y="212.90" font-size="7" text-anchor="middle" fill="#222" textLength="23.20" lengthAdjust="spacingAndGlyphs"><tspan font-style="italic">p</tspan>=0.02</text>
<line x1="42.00" y1="216.40" x2="66.40" y2="216.40" stroke="#444" stroke-width="0.7"/>
<text x="32.70" y="303.00" font-size="6.0" font-weight="bold" font-style="italic" fill="#222" stroke="#222" stroke-width="0.12">Adar<tspan font-size="3.6" dy="-2.7" dx="1.6">fl/fl</tspan></text>
<text x="55.00" y="303.00" font-size="6.0" font-weight="bold" font-style="italic" fill="#222" stroke="#222" stroke-width="0.12">Adar<tspan font-size="3.6" dy="-2.7" dx="1.6">IΔgut</tspan></text>
<line x1="102.00" y1="209.70" x2="102.00" y2="295.70" stroke="#4a4a4a" stroke-width="1.3"/>
<line x1="101.40" y1="295.10" x2="153.80" y2="295.10" stroke="#4a4a4a" stroke-width="1.3"/>
<line x1="100.00" y1="295.10" x2="102.00" y2="295.10" stroke="#4a4a4a" stroke-width="1.0"/>
<text x="99.40" y="297.10" font-size="5.7" text-anchor="end" fill="#222" font-weight="bold" stroke="#222" stroke-width="0.12">0.0</text>
<line x1="100.00" y1="278.12" x2="102.00" y2="278.12" stroke="#4a4a4a" stroke-width="1.0"/>
<text x="99.40" y="280.12" font-size="5.7" text-anchor="end" fill="#222" font-weight="bold" stroke="#222" stroke-width="0.12">0.5</text>
<line x1="100.00" y1="261.14" x2="102.00" y2="261.14" stroke="#4a4a4a" stroke-width="1.0"/>
<text x="99.40" y="263.14" font-size="5.7" text-anchor="end" fill="#222" font-weight="bold" stroke="#222" stroke-width="0.12">1.0</text>
<line x1="100.00" y1="244.16" x2="102.00" y2="244.16" stroke="#4a4a4a" stroke-width="1.0"/>
<text x="99.40" y="246.16" font-size="5.7" text-anchor="end" fill="#222" font-weight="bold" stroke="#222" stroke-width="0.12">1.5</text>
<line x1="100.00" y1="227.18" x2="102.00" y2="227.18" stroke="#4a4a4a" stroke-width="1.0"/>
<text x="99.40" y="229.18" font-size="5.7" text-anchor="end" fill="#222" font-weight="bold" stroke="#222" stroke-width="0.12">2.0</text>
<line x1="100.00" y1="210.20" x2="102.00" y2="210.20" stroke="#4a4a4a" stroke-width="1.0"/>
<text x="99.40" y="212.20" font-size="5.7" text-anchor="end" fill="#222" font-weight="bold" stroke="#222" stroke-width="0.12">2.5</text>
<rect x="110.00" y="260.90" width="15.70" height="34.20" fill="#d9d9d9" stroke="#222" stroke-width="1.1"/>
<rect x="133.60" y="240.70" width="16.00" height="54.40" fill="#ff6600"/>
<line x1="117.85" y1="295.10" x2="117.85" y2="296.90" stroke="#222" stroke-width="0.8"/>
<line x1="141.60" y1="295.10" x2="141.60" y2="296.90" stroke="#222" stroke-width="0.8"/>
<line x1="117.80" y1="257.90" x2="117.80" y2="264.00" stroke="#111" stroke-width="0.9"/>
<line x1="114.50" y1="257.90" x2="121.60" y2="257.90" stroke="#111" stroke-width="0.9"/>
<line x1="114.50" y1="264.00" x2="121.60" y2="264.00" stroke="#111" stroke-width="0.9"/>
<line x1="141.70" y1="234.10" x2="141.70" y2="247.30" stroke="#111" stroke-width="0.9"/>
<line x1="137.70" y1="234.10" x2="145.70" y2="234.10" stroke="#111" stroke-width="0.9"/>
<line x1="137.70" y1="247.30" x2="145.70" y2="247.30" stroke="#111" stroke-width="0.9"/>
<circle cx="117.50" cy="256.40" r="1.55" fill="#111"/>
<circle cx="115.00" cy="263.20" r="1.55" fill="#111"/>
<circle cx="120.70" cy="261.80" r="1.55" fill="#111"/>
<circle cx="141.80" cy="227.90" r="1.55" fill="#111"/>
<circle cx="139.50" cy="247.50" r="1.55" fill="#111"/>
<circle cx="143.90" cy="247.10" r="1.55" fill="#111"/>
<text x="128.30" y="201.60" font-size="6.2" text-anchor="middle" fill="#222" font-weight="bold" font-style="italic" textLength="36.599999999999994" lengthAdjust="spacingAndGlyphs" stroke="#222" stroke-width="0.06">ORR1A1_int</text>
<text x="129.20" y="215.70" font-size="7" text-anchor="middle" fill="#222" textLength="22.40" lengthAdjust="spacingAndGlyphs"><tspan font-style="italic">p</tspan>=0.04</text>
<line x1="116.25" y1="218.90" x2="141.80" y2="218.90" stroke="#444" stroke-width="0.7"/>
<text x="106.50" y="303.00" font-size="6.0" font-weight="bold" font-style="italic" fill="#222" stroke="#222" stroke-width="0.12">Adar<tspan font-size="3.6" dy="-2.7" dx="1.6">fl/fl</tspan></text>
<text x="129.00" y="303.00" font-size="6.0" font-weight="bold" font-style="italic" fill="#222" stroke="#222" stroke-width="0.12">Adar<tspan font-size="3.6" dy="-2.7" dx="1.6">IΔgut</tspan></text>
<line x1="176.40" y1="208.60" x2="176.40" y2="294.90" stroke="#4a4a4a" stroke-width="1.3"/>
<line x1="175.80" y1="294.30" x2="232.30" y2="294.30" stroke="#4a4a4a" stroke-width="1.3"/>
<line x1="174.40" y1="294.30" x2="176.40" y2="294.30" stroke="#4a4a4a" stroke-width="1.0"/>
<text x="173.80" y="296.30" font-size="5.7" text-anchor="end" fill="#222" font-weight="bold" stroke="#222" stroke-width="0.12">0.0</text>
<line x1="174.40" y1="277.26" x2="176.40" y2="277.26" stroke="#4a4a4a" stroke-width="1.0"/>
<text x="173.80" y="279.26" font-size="5.7" text-anchor="end" fill="#222" font-weight="bold" stroke="#222" stroke-width="0.12">0.5</text>
<line x1="174.40" y1="260.22" x2="176.40" y2="260.22" stroke="#4a4a4a" stroke-width="1.0"/>
<text x="173.80" y="262.22" font-size="5.7" text-anchor="end" fill="#222" font-weight="bold" stroke="#222" stroke-width="0.12">1.0</text>
<line x1="174.40" y1="243.18" x2="176.40" y2="243.18" stroke="#4a4a4a" stroke-width="1.0"/>
<text x="173.80" y="245.18" font-size="5.7" text-anchor="end" fill="#222" font-weight="bold" stroke="#222" stroke-width="0.12">1.5</text>
<line x1="174.40" y1="226.14" x2="176.40" y2="226.14" stroke="#4a4a4a" stroke-width="1.0"/>
<text x="173.80" y="228.14" font-size="5.7" text-anchor="end" fill="#222" font-weight="bold" stroke="#222" stroke-width="0.12">2.0</text>
<line x1="174.40" y1="209.10" x2="176.40" y2="209.10" stroke="#4a4a4a" stroke-width="1.0"/>
<text x="173.80" y="211.10" font-size="5.7" text-anchor="end" fill="#222" font-weight="bold" stroke="#222" stroke-width="0.12">2.5</text>
<rect x="184.10" y="260.50" width="15.50" height="33.80" fill="#d9d9d9" stroke="#222" stroke-width="1.1"/>
<rect x="207.90" y="226.10" width="15.70" height="68.20" fill="#ff6600"/>
<line x1="191.85" y1="294.30" x2="191.85" y2="296.10" stroke="#222" stroke-width="0.8"/>
<line x1="215.75" y1="294.30" x2="215.75" y2="296.10" stroke="#222" stroke-width="0.8"/>
<line x1="191.90" y1="254.30" x2="191.90" y2="265.40" stroke="#111" stroke-width="0.9"/>
<line x1="188.20" y1="254.30" x2="195.70" y2="254.30" stroke="#111" stroke-width="0.9"/>
<line x1="188.20" y1="265.40" x2="195.70" y2="265.40" stroke="#111" stroke-width="0.9"/>
<line x1="215.80" y1="217.70" x2="215.80" y2="234.10" stroke="#111" stroke-width="0.9"/>
<line x1="211.80" y1="217.70" x2="219.80" y2="217.70" stroke="#111" stroke-width="0.9"/>
<line x1="211.80" y1="234.10" x2="219.80" y2="234.10" stroke="#111" stroke-width="0.9"/>
<circle cx="191.80" cy="251.60" r="1.55" fill="#111"/>
<circle cx="191.80" cy="257.90" r="1.55" fill="#111"/>
<circle cx="191.80" cy="270.40" r="1.55" fill="#111"/>
<circle cx="215.70" cy="214.50" r="1.55" fill="#111"/>
<circle cx="215.70" cy="221.60" r="1.55" fill="#111"/>
<circle cx="215.70" cy="242.10" r="1.55" fill="#111"/>
<text x="200.85" y="199.60" font-size="6.2" text-anchor="middle" fill="#222" font-weight="bold" font-style="italic" textLength="49.69999999999999" lengthAdjust="spacingAndGlyphs" stroke="#222" stroke-width="0.06">ERVB4_1B-I_Mm</text>
<text x="202.85" y="208.20" font-size="7" text-anchor="middle" fill="#222" textLength="22.10" lengthAdjust="spacingAndGlyphs"><tspan font-style="italic">p</tspan>=0.03</text>
<line x1="190.40" y1="211.40" x2="214.50" y2="211.40" stroke="#444" stroke-width="0.7"/>
<text x="180.50" y="302.00" font-size="6.0" font-weight="bold" font-style="italic" fill="#222" stroke="#222" stroke-width="0.12">Adar<tspan font-size="3.6" dy="-2.7" dx="1.6">fl/fl</tspan></text>
<text x="203.00" y="302.00" font-size="6.0" font-weight="bold" font-style="italic" fill="#222" stroke="#222" stroke-width="0.12">Adar<tspan font-size="3.6" dy="-2.7" dx="1.6">IΔgut</tspan></text>
<text x="0.00" y="0.00" font-size="6.3" text-anchor="middle" fill="#222" font-weight="bold" textLength="58.3" lengthAdjust="spacingAndGlyphs" stroke="#222" stroke-width="0.15" transform="translate(15.6,250.4) rotate(-90)">Relative expression</text>
<text x="242.20" y="199.20" font-size="19" text-anchor="start" fill="#000" font-weight="bold">d</text>
<line x1="260.60" y1="291.70" x2="520.40" y2="291.70" stroke="#bfbfbf" stroke-width="0.8"/>
<text x="254.60" y="294.00" font-size="6.4" text-anchor="end" fill="#222" font-weight="bold">0</text>
<line x1="260.60" y1="277.52" x2="520.40" y2="277.52" stroke="#d9d9d9" stroke-width="0.8"/>
<text x="254.60" y="279.82" font-size="6.4" text-anchor="end" fill="#222" font-weight="bold">1</text>
<line x1="260.60" y1="263.34" x2="520.40" y2="263.34" stroke="#d9d9d9" stroke-width="0.8"/>
<text x="254.60" y="265.64" font-size="6.4" text-anchor="end" fill="#222" font-weight="bold">2</text>
<line x1="260.60" y1="249.16" x2="520.40" y2="249.16" stroke="#d9d9d9" stroke-width="0.8"/>
<text x="254.60" y="251.46" font-size="6.4" text-anchor="end" fill="#222" font-weight="bold">3</text>
<line x1="260.60" y1="234.98" x2="520.40" y2="234.98" stroke="#d9d9d9" stroke-width="0.8"/>
<text x="254.60" y="237.28" font-size="6.4" text-anchor="end" fill="#222" font-weight="bold">4</text>
<line x1="260.60" y1="220.80" x2="520.40" y2="220.80" stroke="#d9d9d9" stroke-width="0.8"/>
<text x="254.60" y="223.10" font-size="6.4" text-anchor="end" fill="#222" font-weight="bold">5</text>
<line x1="260.60" y1="206.62" x2="520.40" y2="206.62" stroke="#d9d9d9" stroke-width="0.8"/>
<text x="254.60" y="208.92" font-size="6.4" text-anchor="end" fill="#222" font-weight="bold">6</text>
<rect x="267.70" y="278.32" width="8.40" height="13.38" fill="#e4e4e4"/>
<rect x="276.10" y="257.48" width="8.40" height="34.22" fill="#e4e4e4"/>
<rect x="284.50" y="241.45" width="8.40" height="50.25" fill="#e4e4e4"/>
<rect x="266.90" y="277.52" width="8.40" height="14.18" fill="#a6a6a6"/>
<rect x="275.30" y="256.68" width="8.40" height="35.02" fill="#ff8c32"/>
<rect x="283.70" y="240.65" width="8.40" height="51.05" fill="#ffaeb9"/>
<text x="0.00" y="0.00" font-size="6.85" text-anchor="end" fill="#111" font-weight="bold" stroke="#111" stroke-width="0.18" transform="translate(280.20,298.30) rotate(-45)">BLACKJACK</text>
<rect x="304.95" y="278.32" width="8.40" height="13.38" fill="#e4e4e4"/>
<rect x="313.35" y="249.25" width="8.40" height="42.45" fill="#e4e4e4"/>
<rect x="321.75" y="249.96" width="8.40" height="41.74" fill="#e4e4e4"/>
<rect x="304.15" y="277.52" width="8.40" height="14.18" fill="#a6a6a6"/>
<rect x="312.55" y="248.45" width="8.40" height="43.25" fill="#ff8c32"/>
<rect x="320.95" y="249.16" width="8.40" height="42.54" fill="#ffaeb9"/>
<text x="0.00" y="0.00" font-size="6.85" text-anchor="end" fill="#111" font-weight="bold" stroke="#111" stroke-width="0.18" transform="translate(317.45,298.30) rotate(-45)">Charlie2a</text>
<rect x="342.20" y="278.32" width="8.40" height="13.38" fill="#e4e4e4"/>
<rect x="350.60" y="264.14" width="8.40" height="27.56" fill="#e4e4e4"/>
<rect x="359.00" y="249.25" width="8.40" height="42.45" fill="#e4e4e4"/>
<rect x="341.40" y="277.52" width="8.40" height="14.18" fill="#a6a6a6"/>
<rect x="349.80" y="263.34" width="8.40" height="28.36" fill="#ff8c32"/>
<rect x="358.20" y="248.45" width="8.40" height="43.25" fill="#ffaeb9"/>
<text x="0.00" y="0.00" font-size="6.85" text-anchor="end" fill="#111" font-weight="bold" stroke="#111" stroke-width="0.18" transform="translate(354.70,298.30) rotate(-45)">HERVE-int</text>
<rect x="379.45" y="278.32" width="8.40" height="13.38" fill="#e4e4e4"/>
<rect x="387.85" y="231.53" width="8.40" height="60.17" fill="#e4e4e4"/>
<rect x="396.25" y="223.73" width="8.40" height="67.97" fill="#e4e4e4"/>
<rect x="378.65" y="277.52" width="8.40" height="14.18" fill="#a6a6a6"/>
<rect x="387.05" y="230.73" width="8.40" height="60.97" fill="#ff8c32"/>
<rect x="395.45" y="222.93" width="8.40" height="68.77" fill="#ffaeb9"/>
<text x="0.00" y="0.00" font-size="6.85" text-anchor="end" fill="#111" font-weight="bold" stroke="#111" stroke-width="0.18" transform="translate(391.95,298.30) rotate(-45)">HERVIP10B3-int</text>
<rect x="416.70" y="278.32" width="8.40" height="13.38" fill="#e4e4e4"/>
<rect x="425.10" y="259.89" width="8.40" height="31.81" fill="#e4e4e4"/>
<rect x="433.50" y="254.21" width="8.40" height="37.49" fill="#e4e4e4"/>
<rect x="415.90" y="277.52" width="8.40" height="14.18" fill="#a6a6a6"/>
<rect x="424.30" y="259.09" width="8.40" height="32.61" fill="#ff8c32"/>
<rect x="432.70" y="253.41" width="8.40" height="38.29" fill="#ffaeb9"/>
<text x="0.00" y="0.00" font-size="6.85" text-anchor="end" fill="#111" font-weight="bold" stroke="#111" stroke-width="0.18" transform="translate(429.20,298.30) rotate(-45)">L2</text>
<rect x="453.95" y="278.32" width="8.40" height="13.38" fill="#e4e4e4"/>
<rect x="462.35" y="220.18" width="8.40" height="71.52" fill="#e4e4e4"/>
<rect x="470.75" y="217.35" width="8.40" height="74.35" fill="#e4e4e4"/>
<rect x="453.15" y="277.52" width="8.40" height="14.18" fill="#a6a6a6"/>
<rect x="461.55" y="219.38" width="8.40" height="72.32" fill="#ff8c32"/>
<rect x="469.95" y="216.55" width="8.40" height="75.15" fill="#ffaeb9"/>
<text x="0.00" y="0.00" font-size="6.85" text-anchor="end" fill="#111" font-weight="bold" stroke="#111" stroke-width="0.18" transform="translate(466.45,298.30) rotate(-45)">LTR26C</text>
<rect x="491.20" y="278.32" width="8.40" height="13.38" fill="#e4e4e4"/>
<rect x="499.60" y="263.01" width="8.40" height="28.69" fill="#e4e4e4"/>
<rect x="508.00" y="262.01" width="8.40" height="29.69" fill="#e4e4e4"/>
<rect x="490.40" y="277.52" width="8.40" height="14.18" fill="#a6a6a6"/>
<rect x="498.80" y="262.21" width="8.40" height="29.49" fill="#ff8c32"/>
<rect x="507.20" y="261.21" width="8.40" height="30.49" fill="#ffaeb9"/>
<text x="0.00" y="0.00" font-size="6.85" text-anchor="end" fill="#111" font-weight="bold" stroke="#111" stroke-width="0.18" transform="translate(503.70,298.30) rotate(-45)">Tigger1</text>
<rect x="294.50" y="191.00" width="3.50" height="4.00" fill="#a6a6a6"/>
<text x="300.20" y="195.00" font-size="6.6" text-anchor="start" fill="#111" font-weight="bold" textLength="11.2" lengthAdjust="spacingAndGlyphs">Ctrl</text>
<rect x="331.60" y="191.00" width="3.40" height="4.00" fill="#ff8c32"/>
<text x="336.00" y="195.00" font-size="6.6" text-anchor="start" fill="#111" font-weight="bold" textLength="51.8" lengthAdjust="spacingAndGlyphs">Crohn’s disease</text>
<rect x="410.10" y="191.20" width="3.30" height="4.10" fill="#ffaeb9"/>
<text x="414.40" y="195.30" font-size="6.6" text-anchor="start" fill="#111" font-weight="bold" textLength="53.6" lengthAdjust="spacingAndGlyphs">Ulcerative colitis</text>
<text x="0.00" y="0.00" font-size="6.5" text-anchor="middle" fill="#111" font-weight="bold" textLength="56.7" lengthAdjust="spacingAndGlyphs" transform="translate(247.2,247.9) rotate(-90)">Log2 Fold change</text>
</svg></body></html>
